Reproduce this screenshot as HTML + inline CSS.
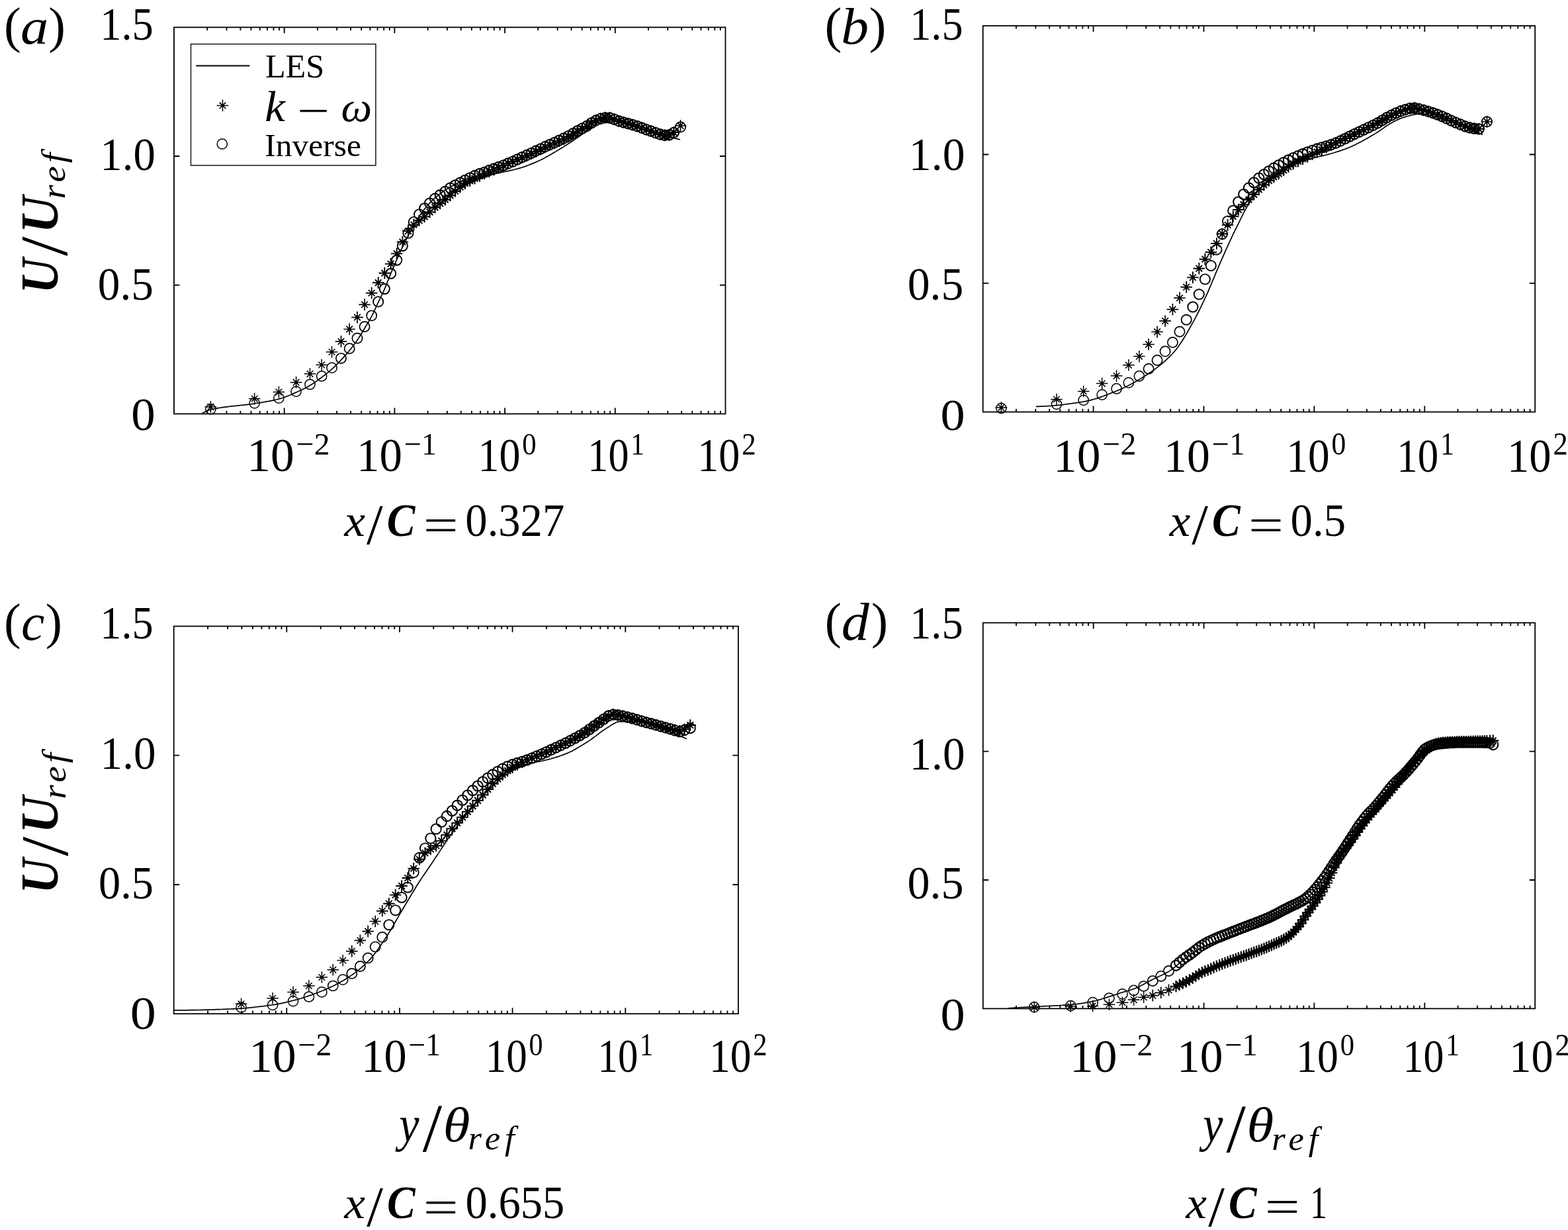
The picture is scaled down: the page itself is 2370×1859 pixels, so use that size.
<!DOCTYPE html><html><head><meta charset="utf-8"><title>Velocity profiles</title><style>html,body{margin:0;padding:0;background:#fff;}svg{display:block}text{font-family:"Liberation Serif", "DejaVu Serif", serif;fill:#000}</style></head><body>
<svg xmlns="http://www.w3.org/2000/svg" width="2370" height="1859" viewBox="0 0 2370 1859">
<rect x="0" y="0" width="2370" height="1859" fill="#fff"/>
<g id="panel-a"><path d="M305.0 625.0 L307.4 623.8 L309.8 622.5 L312.3 621.3 L314.7 620.3 L317.1 619.4 L319.5 618.8 L321.9 618.3 L324.3 617.7 L326.8 617.3 L329.2 616.8 L331.6 616.4 L334.0 616.1 L336.4 615.7 L338.9 615.4 L341.3 615.1 L343.7 614.8 L346.1 614.5 L348.5 614.2 L350.9 613.9 L353.4 613.7 L355.8 613.4 L358.2 613.2 L360.6 612.9 L363.0 612.7 L365.5 612.4 L367.9 612.2 L370.3 611.9 L372.7 611.6 L375.1 611.3 L377.5 611.0 L380.0 610.7 L382.4 610.3 L384.8 609.9 L387.2 609.5 L389.6 609.1 L392.1 608.8 L394.5 608.4 L396.9 608.0 L399.3 607.6 L401.7 607.1 L404.1 606.7 L406.6 606.3 L409.0 605.8 L411.4 605.3 L413.8 604.8 L416.2 604.3 L418.6 603.7 L421.1 603.1 L423.5 602.4 L425.9 601.7 L428.3 600.9 L430.7 600.0 L433.2 599.1 L435.6 598.2 L438.0 597.2 L440.4 596.2 L442.8 595.1 L445.2 594.1 L447.7 593.0 L450.1 591.9 L452.5 590.8 L454.9 589.7 L457.3 588.5 L459.8 587.3 L462.2 586.1 L464.6 584.8 L467.0 583.4 L469.4 582.0 L471.8 580.6 L474.3 579.0 L476.7 577.3 L479.1 575.6 L481.5 573.8 L483.9 572.0 L486.4 570.2 L488.8 568.4 L491.2 566.5 L493.6 564.6 L496.0 562.7 L498.4 560.7 L500.9 558.6 L503.3 556.4 L505.7 554.1 L508.1 551.7 L510.5 549.3 L513.0 546.8 L515.4 544.2 L517.8 541.7 L520.2 539.1 L522.6 536.4 L525.0 533.6 L527.5 530.8 L529.9 527.8 L532.3 524.7 L534.7 521.5 L537.1 518.1 L539.6 514.7 L542.0 511.1 L544.4 507.3 L546.8 503.3 L549.2 499.3 L551.6 495.3 L554.1 491.3 L556.5 487.3 L558.9 483.2 L561.3 478.9 L563.7 474.2 L566.2 469.0 L568.6 463.7 L571.0 458.5 L573.4 453.4 L575.8 448.5 L578.2 443.5 L580.7 438.2 L583.1 432.6 L585.5 426.5 L587.9 420.4 L590.3 414.4 L592.7 408.6 L595.2 402.9 L597.6 397.2 L600.0 391.7 L602.4 386.3 L604.8 380.9 L607.3 375.7 L609.7 370.7 L612.1 365.8 L614.5 361.0 L616.9 356.3 L619.3 351.7 L621.8 347.3 L624.2 343.0 L626.6 338.8 L629.0 334.7 L631.4 330.7 L633.9 326.8 L636.3 323.1 L638.7 319.7 L641.1 316.6 L643.5 313.7 L645.9 310.8 L648.4 308.2 L650.8 305.6 L653.2 303.2 L655.6 300.9 L658.0 298.7 L660.5 296.6 L662.9 294.7 L665.3 292.8 L667.7 291.0 L670.1 289.3 L672.5 287.6 L675.0 286.1 L677.4 284.6 L679.8 283.1 L682.2 281.7 L684.6 280.4 L687.1 279.1 L689.5 277.8 L691.9 276.6 L694.3 275.5 L696.7 274.4 L699.1 273.4 L701.6 272.3 L704.0 271.3 L706.4 270.3 L708.8 269.3 L711.2 268.4 L713.7 267.6 L716.1 266.8 L718.5 266.3 L720.9 265.9 L723.3 265.6 L725.7 265.3 L728.2 265.1 L730.6 264.9 L733.0 264.7 L735.4 264.5 L737.8 264.3 L740.3 264.0 L742.7 263.6 L745.1 263.1 L747.5 262.7 L749.9 262.1 L752.3 261.6 L754.8 261.1 L757.2 260.6 L759.6 260.1 L762.0 259.6 L764.4 259.1 L766.8 258.6 L769.3 258.1 L771.7 257.6 L774.1 257.0 L776.5 256.5 L778.9 255.9 L781.4 255.2 L783.8 254.6 L786.2 253.9 L788.6 253.2 L791.0 252.4 L793.4 251.6 L795.9 250.7 L798.3 249.8 L800.7 248.9 L803.1 247.9 L805.5 246.9 L808.0 245.9 L810.4 244.9 L812.8 243.8 L815.2 242.7 L817.6 241.6 L820.0 240.4 L822.5 239.1 L824.9 237.8 L827.3 236.4 L829.7 235.1 L832.1 233.7 L834.6 232.2 L837.0 230.8 L839.4 229.4 L841.8 227.9 L844.2 226.5 L846.6 225.1 L849.1 223.6 L851.5 222.1 L853.9 220.5 L856.3 219.0 L858.7 217.4 L861.2 215.9 L863.6 214.3 L866.0 212.7 L868.4 211.1 L870.8 209.4 L873.2 207.8 L875.7 206.1 L878.1 204.4 L880.5 202.6 L882.9 200.8 L885.3 198.9 L887.8 196.9 L890.2 194.9 L892.6 192.9 L895.0 191.1 L897.4 189.5 L899.8 188.1 L902.3 186.8 L904.7 185.5 L907.1 184.2 L909.5 183.0 L911.9 182.1 L914.4 181.4 L916.8 181.0 L919.2 181.1 L921.6 181.3 L924.0 181.8 L926.4 182.4 L928.9 183.1 L931.3 183.8 L933.7 184.5 L936.1 185.2 L938.5 185.7 L940.9 186.4 L943.4 187.0 L945.8 187.6 L948.2 188.3 L950.6 188.9 L953.0 189.6 L955.5 190.3 L957.9 191.0 L960.3 191.8 L962.7 192.6 L965.1 193.4 L967.5 194.3 L970.0 195.2 L972.4 196.1 L974.8 197.0 L977.2 197.9 L979.6 198.8 L982.1 199.6 L984.5 200.3 L986.9 201.0 L989.3 201.6 L991.7 202.2 L994.1 202.8 L996.6 203.4 L999.0 204.0 L1001.4 204.6 L1003.8 205.2 L1006.2 205.8 L1008.7 206.4 L1011.1 207.0 L1013.5 207.6 L1015.9 208.1 L1018.3 208.7 L1020.7 209.3 L1023.2 209.9 L1025.6 210.4 L1028.0 211.0" fill="none" stroke="#000" stroke-width="1.7" stroke-linejoin="round"/><path d="M632.9 327.5h17.6M641.7 318.7v17.6M636.9 322.7l9.6 9.6M636.9 332.3l9.6 -9.6M640.1 325.9h3.2v3.2h-3.2zM640.8 320.5h17.6M649.6 311.7v17.6M644.8 315.7l9.6 9.6M644.8 325.3l9.6 -9.6M648.0 318.9h3.2v3.2h-3.2zM648.7 313.4h17.6M657.5 304.6v17.6M652.7 308.6l9.6 9.6M652.7 318.2l9.6 -9.6M655.9 311.8h3.2v3.2h-3.2zM656.4 307.4h17.6M665.2 298.6v17.6M660.4 302.6l9.6 9.6M660.4 312.2l9.6 -9.6M663.6 305.8h3.2v3.2h-3.2zM664.1 301.8h17.6M672.9 293.0v17.6M668.1 297.0l9.6 9.6M668.1 306.6l9.6 -9.6M671.3 300.2h3.2v3.2h-3.2zM671.7 295.4h17.6M680.5 286.6v17.6M675.7 290.6l9.6 9.6M675.7 300.2l9.6 -9.6M678.9 293.8h3.2v3.2h-3.2zM679.2 288.9h17.6M688.0 280.1v17.6M683.2 284.1l9.6 9.6M683.2 293.7l9.6 -9.6M686.4 287.3h3.2v3.2h-3.2zM686.7 282.6h17.6M695.5 273.8v17.6M690.7 277.8l9.6 9.6M690.7 287.4l9.6 -9.6M693.9 281.0h3.2v3.2h-3.2zM694.1 277.1h17.6M702.9 268.3v17.6M698.1 272.3l9.6 9.6M698.1 281.9l9.6 -9.6M701.3 275.5h3.2v3.2h-3.2zM701.5 273.2h17.6M710.3 264.4v17.6M705.5 268.4l9.6 9.6M705.5 278.0l9.6 -9.6M708.7 271.6h3.2v3.2h-3.2zM708.8 269.7h17.6M717.6 260.9v17.6M712.8 264.9l9.6 9.6M712.8 274.5l9.6 -9.6M716.0 268.1h3.2v3.2h-3.2zM716.1 266.0h17.6M724.9 257.2v17.6M720.1 261.2l9.6 9.6M720.1 270.8l9.6 -9.6M723.3 264.4h3.2v3.2h-3.2zM723.3 262.5h17.6M732.1 253.7v17.6M727.3 257.7l9.6 9.6M727.3 267.3l9.6 -9.6M730.5 260.9h3.2v3.2h-3.2zM730.5 259.5h17.6M739.3 250.7v17.6M734.5 254.7l9.6 9.6M734.5 264.3l9.6 -9.6M737.7 257.9h3.2v3.2h-3.2zM737.7 256.7h17.6M746.5 247.9v17.6M741.7 251.9l9.6 9.6M741.7 261.5l9.6 -9.6M744.9 255.1h3.2v3.2h-3.2zM744.8 253.6h17.6M753.6 244.8v17.6M748.8 248.8l9.6 9.6M748.8 258.4l9.6 -9.6M752.0 252.0h3.2v3.2h-3.2zM752.0 250.3h17.6M760.8 241.5v17.6M756.0 245.5l9.6 9.6M756.0 255.1l9.6 -9.6M759.2 248.7h3.2v3.2h-3.2zM759.1 247.1h17.6M767.9 238.3v17.6M763.1 242.3l9.6 9.6M763.1 251.9l9.6 -9.6M766.3 245.5h3.2v3.2h-3.2zM766.2 244.1h17.6M775.0 235.3v17.6M770.2 239.3l9.6 9.6M770.2 248.9l9.6 -9.6M773.4 242.5h3.2v3.2h-3.2zM773.3 241.2h17.6M782.1 232.4v17.6M777.3 236.4l9.6 9.6M777.3 246.0l9.6 -9.6M780.5 239.6h3.2v3.2h-3.2zM780.3 238.3h17.6M789.1 229.5v17.6M784.3 233.5l9.6 9.6M784.3 243.1l9.6 -9.6M787.5 236.7h3.2v3.2h-3.2zM787.4 235.4h17.6M796.2 226.6v17.6M791.4 230.6l9.6 9.6M791.4 240.2l9.6 -9.6M794.6 233.8h3.2v3.2h-3.2zM794.4 232.3h17.6M803.2 223.5v17.6M798.4 227.5l9.6 9.6M798.4 237.1l9.6 -9.6M801.6 230.7h3.2v3.2h-3.2zM801.4 229.1h17.6M810.2 220.3v17.6M805.4 224.3l9.6 9.6M805.4 233.9l9.6 -9.6M808.6 227.5h3.2v3.2h-3.2zM808.4 225.8h17.6M817.2 217.0v17.6M812.4 221.0l9.6 9.6M812.4 230.6l9.6 -9.6M815.6 224.2h3.2v3.2h-3.2zM815.4 222.5h17.6M824.2 213.7v17.6M819.4 217.7l9.6 9.6M819.4 227.3l9.6 -9.6M822.6 220.9h3.2v3.2h-3.2zM822.4 219.3h17.6M831.2 210.5v17.6M826.4 214.5l9.6 9.6M826.4 224.1l9.6 -9.6M829.6 217.7h3.2v3.2h-3.2zM829.4 216.3h17.6M838.2 207.5v17.6M833.4 211.5l9.6 9.6M833.4 221.1l9.6 -9.6M836.6 214.7h3.2v3.2h-3.2zM836.4 213.3h17.6M845.2 204.5v17.6M840.4 208.5l9.6 9.6M840.4 218.1l9.6 -9.6M843.6 211.7h3.2v3.2h-3.2zM843.4 210.1h17.6M852.2 201.3v17.6M847.4 205.3l9.6 9.6M847.4 214.9l9.6 -9.6M850.6 208.5h3.2v3.2h-3.2zM850.3 206.6h17.6M859.1 197.8v17.6M854.3 201.8l9.6 9.6M854.3 211.4l9.6 -9.6M857.5 205.0h3.2v3.2h-3.2zM857.3 202.5h17.6M866.1 193.7v17.6M861.3 197.7l9.6 9.6M861.3 207.3l9.6 -9.6M864.5 200.9h3.2v3.2h-3.2zM864.2 198.3h17.6M873.0 189.5v17.6M868.2 193.5l9.6 9.6M868.2 203.1l9.6 -9.6M871.4 196.7h3.2v3.2h-3.2zM871.2 194.6h17.6M880.0 185.8v17.6M875.2 189.8l9.6 9.6M875.2 199.4l9.6 -9.6M878.4 193.0h3.2v3.2h-3.2zM878.1 191.0h17.6M886.9 182.2v17.6M882.1 186.2l9.6 9.6M882.1 195.8l9.6 -9.6M885.3 189.4h3.2v3.2h-3.2zM885.1 186.0h17.6M893.9 177.2v17.6M889.1 181.2l9.6 9.6M889.1 190.8l9.6 -9.6M892.3 184.4h3.2v3.2h-3.2zM892.0 182.0h17.6M900.8 173.2v17.6M896.0 177.2l9.6 9.6M896.0 186.8l9.6 -9.6M899.2 180.4h3.2v3.2h-3.2zM899.0 179.4h17.6M907.8 170.6v17.6M903.0 174.6l9.6 9.6M903.0 184.2l9.6 -9.6M906.2 177.8h3.2v3.2h-3.2zM905.9 177.8h17.6M914.7 169.0v17.6M909.9 173.0l9.6 9.6M909.9 182.6l9.6 -9.6M913.1 176.2h3.2v3.2h-3.2zM912.8 178.1h17.6M921.6 169.3v17.6M916.8 173.3l9.6 9.6M916.8 182.9l9.6 -9.6M920.0 176.5h3.2v3.2h-3.2zM919.8 180.4h17.6M928.6 171.6v17.6M923.8 175.6l9.6 9.6M923.8 185.2l9.6 -9.6M927.0 178.8h3.2v3.2h-3.2zM926.7 183.0h17.6M935.5 174.2v17.6M930.7 178.2l9.6 9.6M930.7 187.8l9.6 -9.6M933.9 181.4h3.2v3.2h-3.2zM933.6 184.9h17.6M942.4 176.1v17.6M937.6 180.1l9.6 9.6M937.6 189.7l9.6 -9.6M940.8 183.3h3.2v3.2h-3.2zM940.5 186.7h17.6M949.3 177.9v17.6M944.5 181.9l9.6 9.6M944.5 191.5l9.6 -9.6M947.7 185.1h3.2v3.2h-3.2zM947.5 188.6h17.6M956.3 179.8v17.6M951.5 183.8l9.6 9.6M951.5 193.4l9.6 -9.6M954.7 187.0h3.2v3.2h-3.2zM954.4 190.7h17.6M963.2 181.9v17.6M958.4 185.9l9.6 9.6M958.4 195.5l9.6 -9.6M961.6 189.1h3.2v3.2h-3.2zM961.3 193.2h17.6M970.1 184.4v17.6M965.3 188.4l9.6 9.6M965.3 198.0l9.6 -9.6M968.5 191.6h3.2v3.2h-3.2zM968.2 195.8h17.6M977.0 187.0v17.6M972.2 191.0l9.6 9.6M972.2 200.6l9.6 -9.6M975.4 194.2h3.2v3.2h-3.2zM975.1 198.1h17.6M983.9 189.3v17.6M979.1 193.3l9.6 9.6M979.1 202.9l9.6 -9.6M982.3 196.5h3.2v3.2h-3.2zM982.1 200.6h17.6M990.9 191.8v17.6M986.1 195.8l9.6 9.6M986.1 205.4l9.6 -9.6M989.3 199.0h3.2v3.2h-3.2zM989.0 203.0h17.6M997.8 194.2v17.6M993.0 198.2l9.6 9.6M993.0 207.8l9.6 -9.6M996.2 201.4h3.2v3.2h-3.2zM995.9 204.4h17.6M1004.7 195.6v17.6M999.9 199.6l9.6 9.6M999.9 209.2l9.6 -9.6M1003.1 202.8h3.2v3.2h-3.2zM1002.8 204.0h17.6M1011.6 195.2v17.6M1006.8 199.2l9.6 9.6M1006.8 208.8l9.6 -9.6M1010.0 202.4h3.2v3.2h-3.2zM1009.7 200.0h17.6M1018.5 191.2v17.6M1013.7 195.2l9.6 9.6M1013.7 204.8l9.6 -9.6M1016.9 198.4h3.2v3.2h-3.2z" fill="none" stroke="#000" stroke-width="2.1"/><path d="M634.1 314.9a7.6 7.6 0 1 0 15.2 0a7.6 7.6 0 1 0 -15.2 0M642.0 307.1a7.6 7.6 0 1 0 15.2 0a7.6 7.6 0 1 0 -15.2 0M649.9 300.1a7.6 7.6 0 1 0 15.2 0a7.6 7.6 0 1 0 -15.2 0M657.6 294.7a7.6 7.6 0 1 0 15.2 0a7.6 7.6 0 1 0 -15.2 0M665.3 289.3a7.6 7.6 0 1 0 15.2 0a7.6 7.6 0 1 0 -15.2 0M672.9 284.1a7.6 7.6 0 1 0 15.2 0a7.6 7.6 0 1 0 -15.2 0M680.4 279.8a7.6 7.6 0 1 0 15.2 0a7.6 7.6 0 1 0 -15.2 0M687.9 276.2a7.6 7.6 0 1 0 15.2 0a7.6 7.6 0 1 0 -15.2 0M695.3 272.4a7.6 7.6 0 1 0 15.2 0a7.6 7.6 0 1 0 -15.2 0M702.7 268.8a7.6 7.6 0 1 0 15.2 0a7.6 7.6 0 1 0 -15.2 0M710.0 265.5a7.6 7.6 0 1 0 15.2 0a7.6 7.6 0 1 0 -15.2 0M717.3 262.6a7.6 7.6 0 1 0 15.2 0a7.6 7.6 0 1 0 -15.2 0M724.5 260.3a7.6 7.6 0 1 0 15.2 0a7.6 7.6 0 1 0 -15.2 0M731.7 257.5a7.6 7.6 0 1 0 15.2 0a7.6 7.6 0 1 0 -15.2 0M738.9 255.0a7.6 7.6 0 1 0 15.2 0a7.6 7.6 0 1 0 -15.2 0M746.0 252.4a7.6 7.6 0 1 0 15.2 0a7.6 7.6 0 1 0 -15.2 0M753.2 249.8a7.6 7.6 0 1 0 15.2 0a7.6 7.6 0 1 0 -15.2 0M760.3 247.0a7.6 7.6 0 1 0 15.2 0a7.6 7.6 0 1 0 -15.2 0M767.4 244.1a7.6 7.6 0 1 0 15.2 0a7.6 7.6 0 1 0 -15.2 0M774.5 240.9a7.6 7.6 0 1 0 15.2 0a7.6 7.6 0 1 0 -15.2 0M781.5 237.7a7.6 7.6 0 1 0 15.2 0a7.6 7.6 0 1 0 -15.2 0M788.6 234.5a7.6 7.6 0 1 0 15.2 0a7.6 7.6 0 1 0 -15.2 0M795.6 231.3a7.6 7.6 0 1 0 15.2 0a7.6 7.6 0 1 0 -15.2 0M802.6 228.0a7.6 7.6 0 1 0 15.2 0a7.6 7.6 0 1 0 -15.2 0M809.6 224.8a7.6 7.6 0 1 0 15.2 0a7.6 7.6 0 1 0 -15.2 0M816.6 221.5a7.6 7.6 0 1 0 15.2 0a7.6 7.6 0 1 0 -15.2 0M823.6 218.3a7.6 7.6 0 1 0 15.2 0a7.6 7.6 0 1 0 -15.2 0M830.6 215.3a7.6 7.6 0 1 0 15.2 0a7.6 7.6 0 1 0 -15.2 0M837.6 212.2a7.6 7.6 0 1 0 15.2 0a7.6 7.6 0 1 0 -15.2 0M844.6 209.0a7.6 7.6 0 1 0 15.2 0a7.6 7.6 0 1 0 -15.2 0M851.5 205.6a7.6 7.6 0 1 0 15.2 0a7.6 7.6 0 1 0 -15.2 0M858.5 201.7a7.6 7.6 0 1 0 15.2 0a7.6 7.6 0 1 0 -15.2 0M865.4 197.7a7.6 7.6 0 1 0 15.2 0a7.6 7.6 0 1 0 -15.2 0M872.4 194.1a7.6 7.6 0 1 0 15.2 0a7.6 7.6 0 1 0 -15.2 0M879.3 190.5a7.6 7.6 0 1 0 15.2 0a7.6 7.6 0 1 0 -15.2 0M886.3 185.8a7.6 7.6 0 1 0 15.2 0a7.6 7.6 0 1 0 -15.2 0M893.2 182.0a7.6 7.6 0 1 0 15.2 0a7.6 7.6 0 1 0 -15.2 0M900.2 179.4a7.6 7.6 0 1 0 15.2 0a7.6 7.6 0 1 0 -15.2 0M907.1 177.8a7.6 7.6 0 1 0 15.2 0a7.6 7.6 0 1 0 -15.2 0M914.0 178.1a7.6 7.6 0 1 0 15.2 0a7.6 7.6 0 1 0 -15.2 0M921.0 180.4a7.6 7.6 0 1 0 15.2 0a7.6 7.6 0 1 0 -15.2 0M927.9 183.0a7.6 7.6 0 1 0 15.2 0a7.6 7.6 0 1 0 -15.2 0M934.8 184.9a7.6 7.6 0 1 0 15.2 0a7.6 7.6 0 1 0 -15.2 0M941.7 186.7a7.6 7.6 0 1 0 15.2 0a7.6 7.6 0 1 0 -15.2 0M948.7 188.6a7.6 7.6 0 1 0 15.2 0a7.6 7.6 0 1 0 -15.2 0M955.6 190.7a7.6 7.6 0 1 0 15.2 0a7.6 7.6 0 1 0 -15.2 0M962.5 193.2a7.6 7.6 0 1 0 15.2 0a7.6 7.6 0 1 0 -15.2 0M969.4 195.8a7.6 7.6 0 1 0 15.2 0a7.6 7.6 0 1 0 -15.2 0M976.3 198.1a7.6 7.6 0 1 0 15.2 0a7.6 7.6 0 1 0 -15.2 0M983.3 200.6a7.6 7.6 0 1 0 15.2 0a7.6 7.6 0 1 0 -15.2 0M990.2 203.0a7.6 7.6 0 1 0 15.2 0a7.6 7.6 0 1 0 -15.2 0M997.1 204.4a7.6 7.6 0 1 0 15.2 0a7.6 7.6 0 1 0 -15.2 0M1004.0 203.9a7.6 7.6 0 1 0 15.2 0a7.6 7.6 0 1 0 -15.2 0M1010.9 200.4a7.6 7.6 0 1 0 15.2 0a7.6 7.6 0 1 0 -15.2 0" fill="none" stroke="#000" stroke-width="2.1"/><path d="M562.9 427.3h17.6M571.7 418.5v17.6M566.9 422.5l9.6 9.6M566.9 432.1l9.6 -9.6M570.1 425.7h3.2v3.2h-3.2zM572.5 412.8h17.6M581.3 404.0v17.6M576.5 408.0l9.6 9.6M576.5 417.6l9.6 -9.6M579.7 411.2h3.2v3.2h-3.2zM581.8 398.9h17.6M590.6 390.1v17.6M585.8 394.1l9.6 9.6M585.8 403.7l9.6 -9.6M589.0 397.3h3.2v3.2h-3.2zM590.9 383.4h17.6M599.7 374.6v17.6M594.9 378.6l9.6 9.6M594.9 388.2l9.6 -9.6M598.1 381.8h3.2v3.2h-3.2zM599.6 365.6h17.6M608.4 356.8v17.6M603.6 360.8l9.6 9.6M603.6 370.4l9.6 -9.6M606.8 364.0h3.2v3.2h-3.2zM608.2 349.2h17.6M617.0 340.4v17.6M612.2 344.4l9.6 9.6M612.2 354.0l9.6 -9.6M615.4 347.6h3.2v3.2h-3.2zM616.6 339.6h17.6M625.4 330.8v17.6M620.6 334.8l9.6 9.6M620.6 344.4l9.6 -9.6M623.8 338.0h3.2v3.2h-3.2zM624.8 333.2h17.6M633.6 324.4v17.6M628.8 328.4l9.6 9.6M628.8 338.0l9.6 -9.6M632.0 331.6h3.2v3.2h-3.2z" fill="none" stroke="#000" stroke-width="1.9"/><path d="M564.1 456.0a7.6 7.6 0 1 0 15.2 0a7.6 7.6 0 1 0 -15.2 0M573.7 436.6a7.6 7.6 0 1 0 15.2 0a7.6 7.6 0 1 0 -15.2 0M583.0 413.4a7.6 7.6 0 1 0 15.2 0a7.6 7.6 0 1 0 -15.2 0M592.1 393.1a7.6 7.6 0 1 0 15.2 0a7.6 7.6 0 1 0 -15.2 0M600.8 371.6a7.6 7.6 0 1 0 15.2 0a7.6 7.6 0 1 0 -15.2 0M609.4 352.3a7.6 7.6 0 1 0 15.2 0a7.6 7.6 0 1 0 -15.2 0M617.8 335.5a7.6 7.6 0 1 0 15.2 0a7.6 7.6 0 1 0 -15.2 0M626.0 324.0a7.6 7.6 0 1 0 15.2 0a7.6 7.6 0 1 0 -15.2 0" fill="none" stroke="#000" stroke-width="1.9"/><path d="M506.7 516.1h17.6M515.5 507.3v17.6M510.7 511.3l9.6 9.6M510.7 520.9l9.6 -9.6M513.9 514.5h3.2v3.2h-3.2zM519.4 497.5h17.6M528.2 488.7v17.6M523.4 492.7l9.6 9.6M523.4 502.3l9.6 -9.6M526.6 495.9h3.2v3.2h-3.2zM531.2 479.6h17.6M540.0 470.8v17.6M535.2 474.8l9.6 9.6M535.2 484.4l9.6 -9.6M538.4 478.0h3.2v3.2h-3.2zM542.3 460.4h17.6M551.1 451.6v17.6M546.3 455.6l9.6 9.6M546.3 465.2l9.6 -9.6M549.5 458.8h3.2v3.2h-3.2zM552.9 442.9h17.6M561.7 434.1v17.6M556.9 438.1l9.6 9.6M556.9 447.7l9.6 -9.6M560.1 441.3h3.2v3.2h-3.2zM1019.8 190.0h17.6M1028.6 181.2v17.6M1023.8 185.2l9.6 9.6M1023.8 194.8l9.6 -9.6M1027.0 188.4h3.2v3.2h-3.2z" fill="none" stroke="#000" stroke-width="1.7"/><path d="M507.9 541.6a7.6 7.6 0 1 0 15.2 0a7.6 7.6 0 1 0 -15.2 0M520.6 526.7a7.6 7.6 0 1 0 15.2 0a7.6 7.6 0 1 0 -15.2 0M532.4 511.2a7.6 7.6 0 1 0 15.2 0a7.6 7.6 0 1 0 -15.2 0M543.5 493.8a7.6 7.6 0 1 0 15.2 0a7.6 7.6 0 1 0 -15.2 0M554.1 477.1a7.6 7.6 0 1 0 15.2 0a7.6 7.6 0 1 0 -15.2 0M1021.0 192.0a7.6 7.6 0 1 0 15.2 0a7.6 7.6 0 1 0 -15.2 0" fill="none" stroke="#000" stroke-width="1.7"/><path d="M309.6 614.9h17.6M318.4 606.1v17.6M313.6 610.1l9.6 9.6M313.6 619.7l9.6 -9.6M316.8 613.3h3.2v3.2h-3.2zM375.9 602.6h17.6M384.7 593.8v17.6M379.9 597.8l9.6 9.6M379.9 607.4l9.6 -9.6M383.1 601.0h3.2v3.2h-3.2zM412.6 592.6h17.6M421.4 583.8v17.6M416.6 587.8l9.6 9.6M416.6 597.4l9.6 -9.6M419.8 591.0h3.2v3.2h-3.2zM438.8 577.9h17.6M447.6 569.1v17.6M442.8 573.1l9.6 9.6M442.8 582.7l9.6 -9.6M446.0 576.3h3.2v3.2h-3.2zM459.7 565.1h17.6M468.5 556.3v17.6M463.7 560.3l9.6 9.6M463.7 569.9l9.6 -9.6M466.9 563.5h3.2v3.2h-3.2zM477.4 551.5h17.6M486.2 542.7v17.6M481.4 546.7l9.6 9.6M481.4 556.3l9.6 -9.6M484.6 549.9h3.2v3.2h-3.2zM492.8 532.0h17.6M501.6 523.2v17.6M496.8 527.2l9.6 9.6M496.8 536.8l9.6 -9.6M500.0 530.4h3.2v3.2h-3.2z" fill="none" stroke="#000" stroke-width="1.5"/><path d="M310.8 618.3a7.6 7.6 0 1 0 15.2 0a7.6 7.6 0 1 0 -15.2 0M377.1 609.3a7.6 7.6 0 1 0 15.2 0a7.6 7.6 0 1 0 -15.2 0M413.8 601.6a7.6 7.6 0 1 0 15.2 0a7.6 7.6 0 1 0 -15.2 0M440.0 591.6a7.6 7.6 0 1 0 15.2 0a7.6 7.6 0 1 0 -15.2 0M460.9 581.0a7.6 7.6 0 1 0 15.2 0a7.6 7.6 0 1 0 -15.2 0M478.6 568.5a7.6 7.6 0 1 0 15.2 0a7.6 7.6 0 1 0 -15.2 0M494.0 555.9a7.6 7.6 0 1 0 15.2 0a7.6 7.6 0 1 0 -15.2 0" fill="none" stroke="#000" stroke-width="1.5"/><rect x="263.0" y="41.3" width="833.5" height="584.2" fill="none" stroke="#000" stroke-width="1.8"/><path d="M313.2 625.5v-4.6M313.2 41.3v4.6M342.5 625.5v-4.6M342.5 41.3v4.6M363.4 625.5v-4.6M363.4 41.3v4.6M379.5 625.5v-4.6M379.5 41.3v4.6M392.7 625.5v-4.6M392.7 41.3v4.6M403.9 625.5v-4.6M403.9 41.3v4.6M413.5 625.5v-4.6M413.5 41.3v4.6M422.1 625.5v-4.6M422.1 41.3v4.6M429.7 625.5v-9.0M429.7 41.3v9.0M479.9 625.5v-4.6M479.9 41.3v4.6M509.2 625.5v-4.6M509.2 41.3v4.6M530.1 625.5v-4.6M530.1 41.3v4.6M546.2 625.5v-4.6M546.2 41.3v4.6M559.4 625.5v-4.6M559.4 41.3v4.6M570.6 625.5v-4.6M570.6 41.3v4.6M580.2 625.5v-4.6M580.2 41.3v4.6M588.8 625.5v-4.6M588.8 41.3v4.6M596.4 625.5v-9.0M596.4 41.3v9.0M646.6 625.5v-4.6M646.6 41.3v4.6M675.9 625.5v-4.6M675.9 41.3v4.6M696.8 625.5v-4.6M696.8 41.3v4.6M712.9 625.5v-4.6M712.9 41.3v4.6M726.1 625.5v-4.6M726.1 41.3v4.6M737.3 625.5v-4.6M737.3 41.3v4.6M746.9 625.5v-4.6M746.9 41.3v4.6M755.5 625.5v-4.6M755.5 41.3v4.6M763.1 625.5v-9.0M763.1 41.3v9.0M813.3 625.5v-4.6M813.3 41.3v4.6M842.6 625.5v-4.6M842.6 41.3v4.6M863.5 625.5v-4.6M863.5 41.3v4.6M879.6 625.5v-4.6M879.6 41.3v4.6M892.8 625.5v-4.6M892.8 41.3v4.6M904.0 625.5v-4.6M904.0 41.3v4.6M913.6 625.5v-4.6M913.6 41.3v4.6M922.2 625.5v-4.6M922.2 41.3v4.6M929.8 625.5v-9.0M929.8 41.3v9.0M980.0 625.5v-4.6M980.0 41.3v4.6M1009.3 625.5v-4.6M1009.3 41.3v4.6M1030.2 625.5v-4.6M1030.2 41.3v4.6M1046.3 625.5v-4.6M1046.3 41.3v4.6M1059.5 625.5v-4.6M1059.5 41.3v4.6M1070.7 625.5v-4.6M1070.7 41.3v4.6M1080.3 625.5v-4.6M1080.3 41.3v4.6M1088.9 625.5v-4.6M1088.9 41.3v4.6M263.0 430.8h8.5M1096.5 430.8h-8.5M263.0 236.0h8.5M1096.5 236.0h-8.5" stroke="#000" stroke-width="1.8" fill="none"/></g>
<g id="panel-b"><path d="M1565.8 614.3 L1568.1 614.3 L1570.3 614.3 L1572.6 614.2 L1574.8 614.1 L1577.1 614.1 L1579.3 614.0 L1581.6 613.8 L1583.9 613.7 L1586.1 613.5 L1588.4 613.4 L1590.6 613.2 L1592.9 613.0 L1595.2 612.8 L1597.4 612.6 L1599.7 612.3 L1601.9 612.1 L1604.2 611.8 L1606.4 611.6 L1608.7 611.3 L1611.0 611.0 L1613.2 610.7 L1615.5 610.4 L1617.7 610.1 L1620.0 609.8 L1622.2 609.4 L1624.5 609.1 L1626.8 608.8 L1629.0 608.4 L1631.3 608.1 L1633.5 607.7 L1635.8 607.4 L1638.1 607.0 L1640.3 606.6 L1642.6 606.2 L1644.8 605.7 L1647.1 605.1 L1649.3 604.6 L1651.6 603.9 L1653.9 603.3 L1656.1 602.6 L1658.4 601.9 L1660.6 601.2 L1662.9 600.4 L1665.1 599.6 L1667.4 598.8 L1669.7 597.9 L1671.9 597.1 L1674.2 596.2 L1676.4 595.3 L1678.7 594.4 L1681.0 593.5 L1683.2 592.6 L1685.5 591.7 L1687.7 590.8 L1690.0 589.9 L1692.2 588.9 L1694.5 587.9 L1696.8 586.9 L1699.0 585.8 L1701.3 584.8 L1703.5 583.7 L1705.8 582.5 L1708.0 581.4 L1710.3 580.2 L1712.6 578.9 L1714.8 577.7 L1717.1 576.4 L1719.3 575.1 L1721.6 573.8 L1723.9 572.4 L1726.1 571.0 L1728.4 569.6 L1730.6 568.2 L1732.9 566.7 L1735.1 565.2 L1737.4 563.7 L1739.7 562.2 L1741.9 560.6 L1744.2 559.0 L1746.4 557.3 L1748.7 555.6 L1750.9 553.9 L1753.2 552.1 L1755.5 550.3 L1757.7 548.4 L1760.0 546.4 L1762.2 544.4 L1764.5 542.2 L1766.7 540.1 L1769.0 537.8 L1771.3 535.5 L1773.5 533.0 L1775.8 530.5 L1778.0 527.8 L1780.3 524.8 L1782.6 521.6 L1784.8 518.3 L1787.1 514.8 L1789.3 511.2 L1791.6 507.4 L1793.8 503.6 L1796.1 499.7 L1798.4 495.7 L1800.6 491.7 L1802.9 487.7 L1805.1 483.6 L1807.4 479.4 L1809.6 475.0 L1811.9 470.5 L1814.2 465.9 L1816.4 461.2 L1818.7 456.5 L1820.9 451.6 L1823.2 446.8 L1825.5 441.8 L1827.7 436.6 L1830.0 431.3 L1832.2 426.0 L1834.5 420.6 L1836.7 415.1 L1839.0 409.7 L1841.3 404.4 L1843.5 399.1 L1845.8 393.9 L1848.0 388.9 L1850.3 383.8 L1852.5 378.7 L1854.8 373.7 L1857.1 368.7 L1859.3 363.8 L1861.6 358.9 L1863.8 354.1 L1866.1 349.4 L1868.4 344.8 L1870.6 340.3 L1872.9 335.8 L1875.1 331.2 L1877.4 326.7 L1879.6 322.2 L1881.9 317.9 L1884.2 313.6 L1886.4 309.6 L1888.7 305.8 L1890.9 302.3 L1893.2 299.0 L1895.4 296.1 L1897.7 293.2 L1900.0 290.4 L1902.2 287.7 L1904.5 285.1 L1906.7 282.5 L1909.0 280.1 L1911.3 277.7 L1913.5 275.5 L1915.8 273.3 L1918.0 271.3 L1920.3 269.3 L1922.5 267.5 L1924.8 265.8 L1927.1 264.2 L1929.3 262.7 L1931.6 261.3 L1933.8 260.0 L1936.1 258.6 L1938.3 257.4 L1940.6 256.2 L1942.9 255.0 L1945.1 253.9 L1947.4 252.8 L1949.6 251.7 L1951.9 250.7 L1954.2 249.7 L1956.4 248.7 L1958.7 247.8 L1960.9 246.9 L1963.2 246.1 L1965.4 245.2 L1967.7 244.4 L1970.0 243.6 L1972.2 242.8 L1974.5 242.1 L1976.7 241.3 L1979.0 240.6 L1981.2 239.9 L1983.5 239.3 L1985.8 238.7 L1988.0 238.1 L1990.3 237.5 L1992.5 237.0 L1994.8 236.5 L1997.1 235.9 L1999.3 235.4 L2001.6 234.9 L2003.8 234.3 L2006.1 233.7 L2008.3 233.1 L2010.6 232.5 L2012.9 231.8 L2015.1 231.2 L2017.4 230.5 L2019.6 229.8 L2021.9 229.1 L2024.1 228.4 L2026.4 227.6 L2028.7 226.8 L2030.9 226.1 L2033.2 225.2 L2035.4 224.4 L2037.7 223.5 L2040.0 222.6 L2042.2 221.6 L2044.5 220.6 L2046.7 219.5 L2049.0 218.4 L2051.2 217.2 L2053.5 216.1 L2055.8 214.9 L2058.0 213.7 L2060.3 212.5 L2062.5 211.2 L2064.8 210.0 L2067.0 208.7 L2069.3 207.5 L2071.6 206.1 L2073.8 204.8 L2076.1 203.5 L2078.3 202.1 L2080.6 200.7 L2082.8 199.2 L2085.1 197.8 L2087.4 196.2 L2089.6 194.6 L2091.9 193.0 L2094.1 191.4 L2096.4 189.8 L2098.7 188.4 L2100.9 187.1 L2103.2 185.8 L2105.4 184.6 L2107.7 183.3 L2109.9 182.2 L2112.2 181.1 L2114.5 180.1 L2116.7 179.1 L2119.0 178.3 L2121.2 177.6 L2123.5 176.9 L2125.7 176.2 L2128.0 175.5 L2130.3 174.9 L2132.5 174.2 L2134.8 173.7 L2137.0 173.2 L2139.3 172.8 L2141.6 172.5 L2143.8 172.3 L2146.1 172.2 L2148.3 172.2 L2150.6 172.4 L2152.8 172.7 L2155.1 173.0 L2157.4 173.4 L2159.6 173.9 L2161.9 174.5 L2164.1 175.1 L2166.4 175.8 L2168.6 176.5 L2170.9 177.2 L2173.2 177.9 L2175.4 178.7 L2177.7 179.5 L2179.9 180.2 L2182.2 180.9 L2184.5 181.7 L2186.7 182.3 L2189.0 183.0 L2191.2 183.7 L2193.5 184.5 L2195.7 185.2 L2198.0 186.0 L2200.3 186.8 L2202.5 187.6 L2204.8 188.4 L2207.0 189.2 L2209.3 190.1 L2211.5 191.0 L2213.8 191.9 L2216.1 192.8 L2218.3 193.7 L2220.6 194.6 L2222.8 195.6 L2225.1 196.5 L2227.4 197.5 L2229.6 198.5 L2231.9 199.5 L2234.1 200.5 L2236.4 201.6 L2238.6 202.6 L2240.9 203.7" fill="none" stroke="#000" stroke-width="1.7" stroke-linejoin="round"/><path d="M1863.0 317.0h17.6M1871.8 308.2v17.6M1867.0 312.2l9.6 9.6M1867.0 321.8l9.6 -9.6M1870.2 315.4h3.2v3.2h-3.2zM1870.9 309.2h17.6M1879.7 300.4v17.6M1874.9 304.4l9.6 9.6M1874.9 314.0l9.6 -9.6M1878.1 307.6h3.2v3.2h-3.2zM1878.7 301.7h17.6M1887.5 292.9v17.6M1882.7 296.9l9.6 9.6M1882.7 306.5l9.6 -9.6M1885.9 300.1h3.2v3.2h-3.2zM1886.4 293.9h17.6M1895.2 285.1v17.6M1890.4 289.1l9.6 9.6M1890.4 298.7l9.6 -9.6M1893.6 292.3h3.2v3.2h-3.2zM1894.0 286.4h17.6M1902.8 277.6v17.6M1898.0 281.6l9.6 9.6M1898.0 291.2l9.6 -9.6M1901.2 284.8h3.2v3.2h-3.2zM1901.6 279.4h17.6M1910.4 270.6v17.6M1905.6 274.6l9.6 9.6M1905.6 284.2l9.6 -9.6M1908.8 277.8h3.2v3.2h-3.2zM1909.1 272.9h17.6M1917.9 264.1v17.6M1913.1 268.1l9.6 9.6M1913.1 277.7l9.6 -9.6M1916.3 271.3h3.2v3.2h-3.2zM1916.5 267.4h17.6M1925.3 258.6v17.6M1920.5 262.6l9.6 9.6M1920.5 272.2l9.6 -9.6M1923.7 265.8h3.2v3.2h-3.2zM1923.9 262.4h17.6M1932.7 253.6v17.6M1927.9 257.6l9.6 9.6M1927.9 267.2l9.6 -9.6M1931.1 260.8h3.2v3.2h-3.2zM1931.3 257.2h17.6M1940.1 248.4v17.6M1935.3 252.4l9.6 9.6M1935.3 262.0l9.6 -9.6M1938.5 255.6h3.2v3.2h-3.2zM1938.6 251.9h17.6M1947.4 243.1v17.6M1942.6 247.1l9.6 9.6M1942.6 256.7l9.6 -9.6M1945.8 250.3h3.2v3.2h-3.2zM1945.9 247.4h17.6M1954.7 238.6v17.6M1949.9 242.6l9.6 9.6M1949.9 252.2l9.6 -9.6M1953.1 245.8h3.2v3.2h-3.2zM1953.1 243.6h17.6M1961.9 234.8v17.6M1957.1 238.8l9.6 9.6M1957.1 248.4l9.6 -9.6M1960.3 242.0h3.2v3.2h-3.2zM1960.3 240.1h17.6M1969.1 231.3v17.6M1964.3 235.3l9.6 9.6M1964.3 244.9l9.6 -9.6M1967.5 238.5h3.2v3.2h-3.2zM1967.5 236.7h17.6M1976.3 227.9v17.6M1971.5 231.9l9.6 9.6M1971.5 241.5l9.6 -9.6M1974.7 235.1h3.2v3.2h-3.2zM1974.7 233.3h17.6M1983.5 224.5v17.6M1978.7 228.5l9.6 9.6M1978.7 238.1l9.6 -9.6M1981.9 231.7h3.2v3.2h-3.2zM1981.8 229.8h17.6M1990.6 221.0v17.6M1985.8 225.0l9.6 9.6M1985.8 234.6l9.6 -9.6M1989.0 228.2h3.2v3.2h-3.2zM1988.9 226.3h17.6M1997.7 217.5v17.6M1992.9 221.5l9.6 9.6M1992.9 231.1l9.6 -9.6M1996.1 224.7h3.2v3.2h-3.2zM1996.0 222.8h17.6M2004.8 214.0v17.6M2000.0 218.0l9.6 9.6M2000.0 227.6l9.6 -9.6M2003.2 221.2h3.2v3.2h-3.2zM2003.1 219.3h17.6M2011.9 210.5v17.6M2007.1 214.5l9.6 9.6M2007.1 224.1l9.6 -9.6M2010.3 217.7h3.2v3.2h-3.2zM2010.2 215.9h17.6M2019.0 207.1v17.6M2014.2 211.1l9.6 9.6M2014.2 220.7l9.6 -9.6M2017.4 214.3h3.2v3.2h-3.2zM2017.3 212.5h17.6M2026.1 203.7v17.6M2021.3 207.7l9.6 9.6M2021.3 217.3l9.6 -9.6M2024.5 210.9h3.2v3.2h-3.2zM2024.3 209.2h17.6M2033.1 200.4v17.6M2028.3 204.4l9.6 9.6M2028.3 214.0l9.6 -9.6M2031.5 207.6h3.2v3.2h-3.2zM2031.3 205.9h17.6M2040.1 197.1v17.6M2035.3 201.1l9.6 9.6M2035.3 210.7l9.6 -9.6M2038.5 204.3h3.2v3.2h-3.2zM2038.4 202.6h17.6M2047.2 193.8v17.6M2042.4 197.8l9.6 9.6M2042.4 207.4l9.6 -9.6M2045.6 201.0h3.2v3.2h-3.2zM2045.4 199.3h17.6M2054.2 190.5v17.6M2049.4 194.5l9.6 9.6M2049.4 204.1l9.6 -9.6M2052.6 197.7h3.2v3.2h-3.2zM2052.4 196.1h17.6M2061.2 187.3v17.6M2056.4 191.3l9.6 9.6M2056.4 200.9l9.6 -9.6M2059.6 194.5h3.2v3.2h-3.2zM2059.4 192.8h17.6M2068.2 184.0v17.6M2063.4 188.0l9.6 9.6M2063.4 197.6l9.6 -9.6M2066.6 191.2h3.2v3.2h-3.2zM2066.4 189.5h17.6M2075.2 180.7v17.6M2070.4 184.7l9.6 9.6M2070.4 194.3l9.6 -9.6M2073.6 187.9h3.2v3.2h-3.2zM2073.4 186.0h17.6M2082.2 177.2v17.6M2077.4 181.2l9.6 9.6M2077.4 190.8l9.6 -9.6M2080.6 184.4h3.2v3.2h-3.2zM2080.4 181.9h17.6M2089.2 173.1v17.6M2084.4 177.1l9.6 9.6M2084.4 186.7l9.6 -9.6M2087.6 180.3h3.2v3.2h-3.2zM2087.4 177.7h17.6M2096.2 168.9v17.6M2091.4 172.9l9.6 9.6M2091.4 182.5l9.6 -9.6M2094.6 176.1h3.2v3.2h-3.2zM2094.3 174.1h17.6M2103.1 165.3v17.6M2098.3 169.3l9.6 9.6M2098.3 178.9l9.6 -9.6M2101.5 172.5h3.2v3.2h-3.2zM2101.3 170.9h17.6M2110.1 162.1v17.6M2105.3 166.1l9.6 9.6M2105.3 175.7l9.6 -9.6M2108.5 169.3h3.2v3.2h-3.2zM2108.3 168.0h17.6M2117.1 159.2v17.6M2112.3 163.2l9.6 9.6M2112.3 172.8l9.6 -9.6M2115.5 166.4h3.2v3.2h-3.2zM2115.3 165.7h17.6M2124.1 156.9v17.6M2119.3 160.9l9.6 9.6M2119.3 170.5l9.6 -9.6M2122.5 164.1h3.2v3.2h-3.2zM2122.2 163.7h17.6M2131.0 154.9v17.6M2126.2 158.9l9.6 9.6M2126.2 168.5l9.6 -9.6M2129.4 162.1h3.2v3.2h-3.2zM2129.2 163.3h17.6M2138.0 154.5v17.6M2133.2 158.5l9.6 9.6M2133.2 168.1l9.6 -9.6M2136.4 161.7h3.2v3.2h-3.2zM2136.1 164.6h17.6M2144.9 155.8v17.6M2140.1 159.8l9.6 9.6M2140.1 169.4l9.6 -9.6M2143.3 163.0h3.2v3.2h-3.2zM2143.1 166.5h17.6M2151.9 157.7v17.6M2147.1 161.7l9.6 9.6M2147.1 171.3l9.6 -9.6M2150.3 164.9h3.2v3.2h-3.2zM2150.0 168.5h17.6M2158.8 159.7v17.6M2154.0 163.7l9.6 9.6M2154.0 173.3l9.6 -9.6M2157.2 166.9h3.2v3.2h-3.2zM2157.0 170.7h17.6M2165.8 161.9v17.6M2161.0 165.9l9.6 9.6M2161.0 175.5l9.6 -9.6M2164.2 169.1h3.2v3.2h-3.2zM2163.9 173.2h17.6M2172.7 164.4v17.6M2167.9 168.4l9.6 9.6M2167.9 178.0l9.6 -9.6M2171.1 171.6h3.2v3.2h-3.2zM2170.9 175.9h17.6M2179.7 167.1v17.6M2174.9 171.1l9.6 9.6M2174.9 180.7l9.6 -9.6M2178.1 174.3h3.2v3.2h-3.2zM2177.8 179.0h17.6M2186.6 170.2v17.6M2181.8 174.2l9.6 9.6M2181.8 183.8l9.6 -9.6M2185.0 177.4h3.2v3.2h-3.2zM2184.8 182.3h17.6M2193.6 173.5v17.6M2188.8 177.5l9.6 9.6M2188.8 187.1l9.6 -9.6M2192.0 180.7h3.2v3.2h-3.2zM2191.7 185.3h17.6M2200.5 176.5v17.6M2195.7 180.5l9.6 9.6M2195.7 190.1l9.6 -9.6M2198.9 183.7h3.2v3.2h-3.2zM2198.7 188.1h17.6M2207.5 179.3v17.6M2202.7 183.3l9.6 9.6M2202.7 192.9l9.6 -9.6M2205.9 186.5h3.2v3.2h-3.2zM2205.6 190.8h17.6M2214.4 182.0v17.6M2209.6 186.0l9.6 9.6M2209.6 195.6l9.6 -9.6M2212.8 189.2h3.2v3.2h-3.2zM2212.6 192.9h17.6M2221.4 184.1v17.6M2216.6 188.1l9.6 9.6M2216.6 197.7l9.6 -9.6M2219.8 191.3h3.2v3.2h-3.2zM2219.5 194.3h17.6M2228.3 185.5v17.6M2223.5 189.5l9.6 9.6M2223.5 199.1l9.6 -9.6M2226.7 192.7h3.2v3.2h-3.2zM2226.4 194.8h17.6M2235.2 186.0v17.6M2230.4 190.0l9.6 9.6M2230.4 199.6l9.6 -9.6M2233.6 193.2h3.2v3.2h-3.2z" fill="none" stroke="#000" stroke-width="2.1"/><path d="M1864.2 305.1a7.6 7.6 0 1 0 15.2 0a7.6 7.6 0 1 0 -15.2 0M1872.1 293.6a7.6 7.6 0 1 0 15.2 0a7.6 7.6 0 1 0 -15.2 0M1879.9 284.0a7.6 7.6 0 1 0 15.2 0a7.6 7.6 0 1 0 -15.2 0M1887.6 275.9a7.6 7.6 0 1 0 15.2 0a7.6 7.6 0 1 0 -15.2 0M1895.2 269.1a7.6 7.6 0 1 0 15.2 0a7.6 7.6 0 1 0 -15.2 0M1902.8 263.6a7.6 7.6 0 1 0 15.2 0a7.6 7.6 0 1 0 -15.2 0M1910.3 258.6a7.6 7.6 0 1 0 15.2 0a7.6 7.6 0 1 0 -15.2 0M1917.7 254.0a7.6 7.6 0 1 0 15.2 0a7.6 7.6 0 1 0 -15.2 0M1925.1 249.6a7.6 7.6 0 1 0 15.2 0a7.6 7.6 0 1 0 -15.2 0M1932.5 245.7a7.6 7.6 0 1 0 15.2 0a7.6 7.6 0 1 0 -15.2 0M1939.8 242.0a7.6 7.6 0 1 0 15.2 0a7.6 7.6 0 1 0 -15.2 0M1947.1 238.7a7.6 7.6 0 1 0 15.2 0a7.6 7.6 0 1 0 -15.2 0M1954.3 235.6a7.6 7.6 0 1 0 15.2 0a7.6 7.6 0 1 0 -15.2 0M1961.5 232.7a7.6 7.6 0 1 0 15.2 0a7.6 7.6 0 1 0 -15.2 0M1968.7 229.9a7.6 7.6 0 1 0 15.2 0a7.6 7.6 0 1 0 -15.2 0M1975.9 227.4a7.6 7.6 0 1 0 15.2 0a7.6 7.6 0 1 0 -15.2 0M1983.0 225.0a7.6 7.6 0 1 0 15.2 0a7.6 7.6 0 1 0 -15.2 0M1990.1 222.9a7.6 7.6 0 1 0 15.2 0a7.6 7.6 0 1 0 -15.2 0M1997.2 220.9a7.6 7.6 0 1 0 15.2 0a7.6 7.6 0 1 0 -15.2 0M2004.3 218.7a7.6 7.6 0 1 0 15.2 0a7.6 7.6 0 1 0 -15.2 0M2011.4 216.1a7.6 7.6 0 1 0 15.2 0a7.6 7.6 0 1 0 -15.2 0M2018.5 213.0a7.6 7.6 0 1 0 15.2 0a7.6 7.6 0 1 0 -15.2 0M2025.5 209.7a7.6 7.6 0 1 0 15.2 0a7.6 7.6 0 1 0 -15.2 0M2032.5 206.1a7.6 7.6 0 1 0 15.2 0a7.6 7.6 0 1 0 -15.2 0M2039.6 202.6a7.6 7.6 0 1 0 15.2 0a7.6 7.6 0 1 0 -15.2 0M2046.6 199.3a7.6 7.6 0 1 0 15.2 0a7.6 7.6 0 1 0 -15.2 0M2053.6 196.1a7.6 7.6 0 1 0 15.2 0a7.6 7.6 0 1 0 -15.2 0M2060.6 192.8a7.6 7.6 0 1 0 15.2 0a7.6 7.6 0 1 0 -15.2 0M2067.6 189.5a7.6 7.6 0 1 0 15.2 0a7.6 7.6 0 1 0 -15.2 0M2074.6 186.0a7.6 7.6 0 1 0 15.2 0a7.6 7.6 0 1 0 -15.2 0M2081.6 181.9a7.6 7.6 0 1 0 15.2 0a7.6 7.6 0 1 0 -15.2 0M2088.6 177.7a7.6 7.6 0 1 0 15.2 0a7.6 7.6 0 1 0 -15.2 0M2095.5 174.1a7.6 7.6 0 1 0 15.2 0a7.6 7.6 0 1 0 -15.2 0M2102.5 170.9a7.6 7.6 0 1 0 15.2 0a7.6 7.6 0 1 0 -15.2 0M2109.5 168.0a7.6 7.6 0 1 0 15.2 0a7.6 7.6 0 1 0 -15.2 0M2116.5 165.7a7.6 7.6 0 1 0 15.2 0a7.6 7.6 0 1 0 -15.2 0M2123.4 163.7a7.6 7.6 0 1 0 15.2 0a7.6 7.6 0 1 0 -15.2 0M2130.4 163.3a7.6 7.6 0 1 0 15.2 0a7.6 7.6 0 1 0 -15.2 0M2137.3 164.6a7.6 7.6 0 1 0 15.2 0a7.6 7.6 0 1 0 -15.2 0M2144.3 166.5a7.6 7.6 0 1 0 15.2 0a7.6 7.6 0 1 0 -15.2 0M2151.2 168.5a7.6 7.6 0 1 0 15.2 0a7.6 7.6 0 1 0 -15.2 0M2158.2 170.7a7.6 7.6 0 1 0 15.2 0a7.6 7.6 0 1 0 -15.2 0M2165.1 173.2a7.6 7.6 0 1 0 15.2 0a7.6 7.6 0 1 0 -15.2 0M2172.1 175.9a7.6 7.6 0 1 0 15.2 0a7.6 7.6 0 1 0 -15.2 0M2179.0 179.0a7.6 7.6 0 1 0 15.2 0a7.6 7.6 0 1 0 -15.2 0M2186.0 182.3a7.6 7.6 0 1 0 15.2 0a7.6 7.6 0 1 0 -15.2 0M2192.9 185.3a7.6 7.6 0 1 0 15.2 0a7.6 7.6 0 1 0 -15.2 0M2199.9 188.1a7.6 7.6 0 1 0 15.2 0a7.6 7.6 0 1 0 -15.2 0M2206.8 190.8a7.6 7.6 0 1 0 15.2 0a7.6 7.6 0 1 0 -15.2 0M2213.8 192.9a7.6 7.6 0 1 0 15.2 0a7.6 7.6 0 1 0 -15.2 0M2220.7 194.3a7.6 7.6 0 1 0 15.2 0a7.6 7.6 0 1 0 -15.2 0M2227.6 194.8a7.6 7.6 0 1 0 15.2 0a7.6 7.6 0 1 0 -15.2 0" fill="none" stroke="#000" stroke-width="2.1"/><path d="M1784.4 433.9h17.6M1793.2 425.1v17.6M1788.4 429.1l9.6 9.6M1788.4 438.7l9.6 -9.6M1791.6 432.3h3.2v3.2h-3.2zM1794.1 419.4h17.6M1802.9 410.6v17.6M1798.1 414.6l9.6 9.6M1798.1 424.2l9.6 -9.6M1801.3 417.8h3.2v3.2h-3.2zM1803.5 405.7h17.6M1812.3 396.9v17.6M1807.5 400.9l9.6 9.6M1807.5 410.5l9.6 -9.6M1810.7 404.1h3.2v3.2h-3.2zM1812.6 391.7h17.6M1821.4 382.9v17.6M1816.6 386.9l9.6 9.6M1816.6 396.5l9.6 -9.6M1819.8 390.1h3.2v3.2h-3.2zM1821.5 381.2h17.6M1830.3 372.4v17.6M1825.5 376.4l9.6 9.6M1825.5 386.0l9.6 -9.6M1828.7 379.6h3.2v3.2h-3.2zM1830.1 368.0h17.6M1838.9 359.2v17.6M1834.1 363.2l9.6 9.6M1834.1 372.8l9.6 -9.6M1837.3 366.4h3.2v3.2h-3.2zM1838.6 353.5h17.6M1847.4 344.7v17.6M1842.6 348.7l9.6 9.6M1842.6 358.3l9.6 -9.6M1845.8 351.9h3.2v3.2h-3.2zM1846.8 340.1h17.6M1855.6 331.3v17.6M1850.8 335.3l9.6 9.6M1850.8 344.9l9.6 -9.6M1854.0 338.5h3.2v3.2h-3.2zM1855.0 327.3h17.6M1863.8 318.5v17.6M1859.0 322.5l9.6 9.6M1859.0 332.1l9.6 -9.6M1862.2 325.7h3.2v3.2h-3.2z" fill="none" stroke="#000" stroke-width="1.9"/><path d="M1785.6 483.3a7.6 7.6 0 1 0 15.2 0a7.6 7.6 0 1 0 -15.2 0M1795.3 463.9a7.6 7.6 0 1 0 15.2 0a7.6 7.6 0 1 0 -15.2 0M1804.7 444.8a7.6 7.6 0 1 0 15.2 0a7.6 7.6 0 1 0 -15.2 0M1813.8 422.0a7.6 7.6 0 1 0 15.2 0a7.6 7.6 0 1 0 -15.2 0M1822.7 401.5a7.6 7.6 0 1 0 15.2 0a7.6 7.6 0 1 0 -15.2 0M1831.3 377.2a7.6 7.6 0 1 0 15.2 0a7.6 7.6 0 1 0 -15.2 0M1839.8 353.8a7.6 7.6 0 1 0 15.2 0a7.6 7.6 0 1 0 -15.2 0M1848.0 334.2a7.6 7.6 0 1 0 15.2 0a7.6 7.6 0 1 0 -15.2 0M1856.2 318.4a7.6 7.6 0 1 0 15.2 0a7.6 7.6 0 1 0 -15.2 0" fill="none" stroke="#000" stroke-width="1.9"/><path d="M1727.3 520.5h17.6M1736.1 511.7v17.6M1731.3 515.7l9.6 9.6M1731.3 525.3l9.6 -9.6M1734.5 518.9h3.2v3.2h-3.2zM1740.3 501.5h17.6M1749.1 492.7v17.6M1744.3 496.7l9.6 9.6M1744.3 506.3l9.6 -9.6M1747.5 499.9h3.2v3.2h-3.2zM1752.3 485.2h17.6M1761.1 476.4v17.6M1756.3 480.4l9.6 9.6M1756.3 490.0l9.6 -9.6M1759.5 483.6h3.2v3.2h-3.2zM1763.6 467.7h17.6M1772.4 458.9v17.6M1767.6 462.9l9.6 9.6M1767.6 472.5l9.6 -9.6M1770.8 466.1h3.2v3.2h-3.2zM1774.2 450.4h17.6M1783.0 441.6v17.6M1778.2 445.6l9.6 9.6M1778.2 455.2l9.6 -9.6M1781.4 448.8h3.2v3.2h-3.2zM2238.7 184.0h17.6M2247.5 175.2v17.6M2242.7 179.2l9.6 9.6M2242.7 188.8l9.6 -9.6M2245.9 182.4h3.2v3.2h-3.2z" fill="none" stroke="#000" stroke-width="1.7"/><path d="M1728.5 557.4a7.6 7.6 0 1 0 15.2 0a7.6 7.6 0 1 0 -15.2 0M1741.5 544.5a7.6 7.6 0 1 0 15.2 0a7.6 7.6 0 1 0 -15.2 0M1753.5 531.1a7.6 7.6 0 1 0 15.2 0a7.6 7.6 0 1 0 -15.2 0M1764.8 517.4a7.6 7.6 0 1 0 15.2 0a7.6 7.6 0 1 0 -15.2 0M1775.4 501.2a7.6 7.6 0 1 0 15.2 0a7.6 7.6 0 1 0 -15.2 0M2239.9 184.0a7.6 7.6 0 1 0 15.2 0a7.6 7.6 0 1 0 -15.2 0" fill="none" stroke="#000" stroke-width="1.7"/><path d="M1504.6 616.1h17.6M1513.4 607.3v17.6M1508.6 611.3l9.6 9.6M1508.6 620.9l9.6 -9.6M1511.8 614.5h3.2v3.2h-3.2zM1588.2 603.5h17.6M1597.0 594.7v17.6M1592.2 598.7l9.6 9.6M1592.2 608.3l9.6 -9.6M1595.4 601.9h3.2v3.2h-3.2zM1628.9 591.5h17.6M1637.7 582.7v17.6M1632.9 586.7l9.6 9.6M1632.9 596.3l9.6 -9.6M1636.1 589.9h3.2v3.2h-3.2zM1656.9 579.6h17.6M1665.7 570.8v17.6M1660.9 574.8l9.6 9.6M1660.9 584.4l9.6 -9.6M1664.1 578.0h3.2v3.2h-3.2zM1678.8 568.1h17.6M1687.6 559.3v17.6M1682.8 563.3l9.6 9.6M1682.8 572.9l9.6 -9.6M1686.0 566.5h3.2v3.2h-3.2zM1697.1 551.8h17.6M1705.9 543.0v17.6M1701.1 547.0l9.6 9.6M1701.1 556.6l9.6 -9.6M1704.3 550.2h3.2v3.2h-3.2zM1713.1 538.6h17.6M1721.9 529.8v17.6M1717.1 533.8l9.6 9.6M1717.1 543.4l9.6 -9.6M1720.3 537.0h3.2v3.2h-3.2z" fill="none" stroke="#000" stroke-width="1.5"/><path d="M1505.8 617.1a7.6 7.6 0 1 0 15.2 0a7.6 7.6 0 1 0 -15.2 0M1589.4 610.8a7.6 7.6 0 1 0 15.2 0a7.6 7.6 0 1 0 -15.2 0M1630.1 604.8a7.6 7.6 0 1 0 15.2 0a7.6 7.6 0 1 0 -15.2 0M1658.1 596.6a7.6 7.6 0 1 0 15.2 0a7.6 7.6 0 1 0 -15.2 0M1680.0 587.5a7.6 7.6 0 1 0 15.2 0a7.6 7.6 0 1 0 -15.2 0M1698.3 578.4a7.6 7.6 0 1 0 15.2 0a7.6 7.6 0 1 0 -15.2 0M1714.3 568.5a7.6 7.6 0 1 0 15.2 0a7.6 7.6 0 1 0 -15.2 0" fill="none" stroke="#000" stroke-width="1.5"/><rect x="1485.7" y="39.0" width="834.5" height="583.6" fill="none" stroke="#000" stroke-width="1.8"/><path d="M1535.9 622.6v-4.6M1535.9 39.0v4.6M1565.3 622.6v-4.6M1565.3 39.0v4.6M1586.2 622.6v-4.6M1586.2 39.0v4.6M1602.4 622.6v-4.6M1602.4 39.0v4.6M1615.6 622.6v-4.6M1615.6 39.0v4.6M1626.7 622.6v-4.6M1626.7 39.0v4.6M1636.4 622.6v-4.6M1636.4 39.0v4.6M1645.0 622.6v-4.6M1645.0 39.0v4.6M1652.6 622.6v-9.0M1652.6 39.0v9.0M1702.8 622.6v-4.6M1702.8 39.0v4.6M1732.2 622.6v-4.6M1732.2 39.0v4.6M1753.1 622.6v-4.6M1753.1 39.0v4.6M1769.3 622.6v-4.6M1769.3 39.0v4.6M1782.5 622.6v-4.6M1782.5 39.0v4.6M1793.6 622.6v-4.6M1793.6 39.0v4.6M1803.3 622.6v-4.6M1803.3 39.0v4.6M1811.9 622.6v-4.6M1811.9 39.0v4.6M1819.5 622.6v-9.0M1819.5 39.0v9.0M1869.7 622.6v-4.6M1869.7 39.0v4.6M1899.1 622.6v-4.6M1899.1 39.0v4.6M1920.0 622.6v-4.6M1920.0 39.0v4.6M1936.2 622.6v-4.6M1936.2 39.0v4.6M1949.4 622.6v-4.6M1949.4 39.0v4.6M1960.5 622.6v-4.6M1960.5 39.0v4.6M1970.2 622.6v-4.6M1970.2 39.0v4.6M1978.8 622.6v-4.6M1978.8 39.0v4.6M1986.4 622.6v-9.0M1986.4 39.0v9.0M2036.6 622.6v-4.6M2036.6 39.0v4.6M2066.0 622.6v-4.6M2066.0 39.0v4.6M2086.9 622.6v-4.6M2086.9 39.0v4.6M2103.1 622.6v-4.6M2103.1 39.0v4.6M2116.3 622.6v-4.6M2116.3 39.0v4.6M2127.4 622.6v-4.6M2127.4 39.0v4.6M2137.1 622.6v-4.6M2137.1 39.0v4.6M2145.7 622.6v-4.6M2145.7 39.0v4.6M2153.3 622.6v-9.0M2153.3 39.0v9.0M2203.5 622.6v-4.6M2203.5 39.0v4.6M2232.9 622.6v-4.6M2232.9 39.0v4.6M2253.8 622.6v-4.6M2253.8 39.0v4.6M2270.0 622.6v-4.6M2270.0 39.0v4.6M2283.2 622.6v-4.6M2283.2 39.0v4.6M2294.3 622.6v-4.6M2294.3 39.0v4.6M2304.0 622.6v-4.6M2304.0 39.0v4.6M2312.6 622.6v-4.6M2312.6 39.0v4.6M1485.7 428.1h8.5M2320.2 428.1h-8.5M1485.7 233.5h8.5M2320.2 233.5h-8.5" stroke="#000" stroke-width="1.8" fill="none"/></g>
<g id="panel-c"><path d="M262.1 1526.9 L264.7 1526.9 L267.3 1526.9 L269.9 1526.9 L272.5 1526.9 L275.1 1526.8 L277.7 1526.8 L280.3 1526.8 L282.9 1526.8 L285.5 1526.7 L288.0 1526.7 L290.6 1526.7 L293.2 1526.6 L295.8 1526.6 L298.4 1526.5 L301.0 1526.5 L303.6 1526.4 L306.2 1526.3 L308.8 1526.3 L311.4 1526.2 L314.0 1526.1 L316.6 1526.1 L319.2 1526.0 L321.8 1525.9 L324.4 1525.8 L327.0 1525.7 L329.6 1525.7 L332.2 1525.6 L334.8 1525.5 L337.3 1525.4 L339.9 1525.3 L342.5 1525.2 L345.1 1525.1 L347.7 1525.0 L350.3 1524.9 L352.9 1524.8 L355.5 1524.7 L358.1 1524.6 L360.7 1524.4 L363.3 1524.2 L365.9 1524.0 L368.5 1523.8 L371.1 1523.6 L373.7 1523.4 L376.3 1523.1 L378.9 1522.9 L381.5 1522.6 L384.0 1522.3 L386.6 1522.0 L389.2 1521.7 L391.8 1521.4 L394.4 1521.1 L397.0 1520.8 L399.6 1520.4 L402.2 1520.1 L404.8 1519.7 L407.4 1519.4 L410.0 1519.0 L412.6 1518.7 L415.2 1518.3 L417.8 1517.8 L420.4 1517.4 L423.0 1516.9 L425.6 1516.3 L428.2 1515.8 L430.8 1515.2 L433.3 1514.6 L435.9 1514.0 L438.5 1513.3 L441.1 1512.7 L443.7 1512.0 L446.3 1511.4 L448.9 1510.7 L451.5 1509.9 L454.1 1509.2 L456.7 1508.4 L459.3 1507.6 L461.9 1506.8 L464.5 1505.9 L467.1 1505.0 L469.7 1504.1 L472.3 1503.2 L474.9 1502.2 L477.5 1501.3 L480.1 1500.3 L482.6 1499.3 L485.2 1498.2 L487.8 1497.2 L490.4 1496.1 L493.0 1495.0 L495.6 1493.8 L498.2 1492.6 L500.8 1491.4 L503.4 1490.2 L506.0 1488.9 L508.6 1487.6 L511.2 1486.2 L513.8 1484.8 L516.4 1483.3 L519.0 1481.9 L521.6 1480.3 L524.2 1478.7 L526.8 1477.1 L529.3 1475.4 L531.9 1473.6 L534.5 1471.8 L537.1 1469.8 L539.7 1467.8 L542.3 1465.7 L544.9 1463.6 L547.5 1461.3 L550.1 1459.0 L552.7 1456.5 L555.3 1454.0 L557.9 1451.4 L560.5 1448.6 L563.1 1445.5 L565.7 1442.3 L568.3 1438.9 L570.9 1435.3 L573.5 1431.6 L576.1 1427.9 L578.6 1424.0 L581.2 1420.1 L583.8 1416.2 L586.4 1412.2 L589.0 1408.1 L591.6 1403.7 L594.2 1399.3 L596.8 1394.7 L599.4 1390.1 L602.0 1385.6 L604.6 1381.1 L607.2 1376.7 L609.8 1372.3 L612.4 1367.9 L615.0 1363.5 L617.6 1359.1 L620.2 1354.7 L622.8 1350.4 L625.4 1346.2 L627.9 1342.0 L630.5 1337.8 L633.1 1333.8 L635.7 1329.8 L638.3 1325.9 L640.9 1322.1 L643.5 1318.2 L646.1 1314.4 L648.7 1310.6 L651.3 1306.7 L653.9 1302.9 L656.5 1299.0 L659.1 1295.0 L661.7 1291.1 L664.3 1287.1 L666.9 1283.1 L669.5 1279.2 L672.1 1275.4 L674.6 1271.5 L677.2 1267.8 L679.8 1264.1 L682.4 1260.5 L685.0 1256.9 L687.6 1253.3 L690.2 1249.8 L692.8 1246.4 L695.4 1243.0 L698.0 1239.6 L700.6 1236.4 L703.2 1233.2 L705.8 1230.0 L708.4 1226.9 L711.0 1223.8 L713.6 1220.7 L716.2 1217.7 L718.8 1214.7 L721.4 1211.8 L723.9 1208.9 L726.5 1206.1 L729.1 1203.4 L731.7 1200.7 L734.3 1198.1 L736.9 1195.5 L739.5 1193.0 L742.1 1190.4 L744.7 1187.9 L747.3 1185.4 L749.9 1183.0 L752.5 1180.7 L755.1 1178.4 L757.7 1176.2 L760.3 1174.2 L762.9 1172.2 L765.5 1170.4 L768.1 1168.8 L770.7 1167.2 L773.2 1165.6 L775.8 1164.1 L778.4 1162.6 L781.0 1161.3 L783.6 1159.9 L786.2 1158.7 L788.8 1157.6 L791.4 1156.6 L794.0 1155.7 L796.6 1154.9 L799.2 1154.2 L801.8 1153.6 L804.4 1153.0 L807.0 1152.5 L809.6 1152.0 L812.2 1151.5 L814.8 1151.0 L817.4 1150.5 L819.9 1150.0 L822.5 1149.4 L825.1 1148.7 L827.7 1148.1 L830.3 1147.4 L832.9 1146.7 L835.5 1145.9 L838.1 1145.2 L840.7 1144.4 L843.3 1143.6 L845.9 1142.7 L848.5 1141.8 L851.1 1140.9 L853.7 1139.9 L856.3 1138.9 L858.9 1137.8 L861.5 1136.6 L864.1 1135.4 L866.7 1134.0 L869.2 1132.6 L871.8 1131.1 L874.4 1129.6 L877.0 1128.0 L879.6 1126.4 L882.2 1124.8 L884.8 1123.2 L887.4 1121.5 L890.0 1119.9 L892.6 1118.1 L895.2 1116.2 L897.8 1114.3 L900.4 1112.3 L903.0 1110.3 L905.6 1108.3 L908.2 1106.4 L910.8 1104.5 L913.4 1102.8 L916.0 1101.1 L918.5 1099.6 L921.1 1097.9 L923.7 1096.1 L926.3 1094.5 L928.9 1093.0 L931.5 1091.8 L934.1 1090.9 L936.7 1090.6 L939.3 1090.6 L941.9 1090.6 L944.5 1090.6 L947.1 1090.6 L949.7 1090.6 L952.3 1090.6 L954.9 1090.6 L957.5 1090.6 L960.1 1090.6 L962.7 1090.6 L965.2 1090.8 L967.8 1091.2 L970.4 1091.7 L973.0 1092.3 L975.6 1093.0 L978.2 1093.8 L980.8 1094.7 L983.4 1095.6 L986.0 1096.6 L988.6 1097.5 L991.2 1098.5 L993.8 1099.4 L996.4 1100.3 L999.0 1101.2 L1001.6 1102.1 L1004.2 1103.0 L1006.8 1103.9 L1009.4 1104.8 L1012.0 1105.8 L1014.5 1106.8 L1017.1 1107.8 L1019.7 1108.9 L1022.3 1110.0 L1024.9 1111.0 L1027.5 1112.2 L1030.1 1113.3 L1032.7 1114.4 L1035.3 1115.6 L1037.9 1116.8" fill="none" stroke="#000" stroke-width="1.7" stroke-linejoin="round"/><path d="M666.6 1261.8h17.6M675.4 1253.0v17.6M670.6 1257.0l9.6 9.6M670.6 1266.6l9.6 -9.6M673.8 1260.2h3.2v3.2h-3.2zM674.6 1252.5h17.6M683.4 1243.7v17.6M678.6 1247.7l9.6 9.6M678.6 1257.3l9.6 -9.6M681.8 1250.9h3.2v3.2h-3.2zM682.4 1243.8h17.6M691.2 1235.0v17.6M686.4 1239.0l9.6 9.6M686.4 1248.6l9.6 -9.6M689.6 1242.2h3.2v3.2h-3.2zM690.2 1235.3h17.6M699.0 1226.5v17.6M694.2 1230.5l9.6 9.6M694.2 1240.1l9.6 -9.6M697.4 1233.7h3.2v3.2h-3.2zM698.0 1226.7h17.6M706.8 1217.9v17.6M702.0 1221.9l9.6 9.6M702.0 1231.5l9.6 -9.6M705.2 1225.1h3.2v3.2h-3.2zM705.7 1218.3h17.6M714.5 1209.5v17.6M709.7 1213.5l9.6 9.6M709.7 1223.1l9.6 -9.6M712.9 1216.7h3.2v3.2h-3.2zM713.3 1209.9h17.6M722.1 1201.1v17.6M717.3 1205.1l9.6 9.6M717.3 1214.7l9.6 -9.6M720.5 1208.3h3.2v3.2h-3.2zM720.9 1201.5h17.6M729.7 1192.7v17.6M724.9 1196.7l9.6 9.6M724.9 1206.3l9.6 -9.6M728.1 1199.9h3.2v3.2h-3.2zM728.5 1192.9h17.6M737.3 1184.1v17.6M732.5 1188.1l9.6 9.6M732.5 1197.7l9.6 -9.6M735.7 1191.3h3.2v3.2h-3.2zM736.0 1184.4h17.6M744.8 1175.6v17.6M740.0 1179.6l9.6 9.6M740.0 1189.2l9.6 -9.6M743.2 1182.8h3.2v3.2h-3.2zM743.4 1177.1h17.6M752.2 1168.3v17.6M747.4 1172.3l9.6 9.6M747.4 1181.9l9.6 -9.6M750.6 1175.5h3.2v3.2h-3.2zM750.9 1170.7h17.6M759.7 1161.9v17.6M754.9 1165.9l9.6 9.6M754.9 1175.5l9.6 -9.6M758.1 1169.1h3.2v3.2h-3.2zM758.3 1164.9h17.6M767.1 1156.1v17.6M762.3 1160.1l9.6 9.6M762.3 1169.7l9.6 -9.6M765.5 1163.3h3.2v3.2h-3.2zM765.7 1159.9h17.6M774.5 1151.1v17.6M769.7 1155.1l9.6 9.6M769.7 1164.7l9.6 -9.6M772.9 1158.3h3.2v3.2h-3.2zM773.1 1155.7h17.6M781.9 1146.9v17.6M777.1 1150.9l9.6 9.6M777.1 1160.5l9.6 -9.6M780.3 1154.1h3.2v3.2h-3.2zM780.4 1151.9h17.6M789.2 1143.1v17.6M784.4 1147.1l9.6 9.6M784.4 1156.7l9.6 -9.6M787.6 1150.3h3.2v3.2h-3.2zM787.8 1148.5h17.6M796.6 1139.7v17.6M791.8 1143.7l9.6 9.6M791.8 1153.3l9.6 -9.6M795.0 1146.9h3.2v3.2h-3.2zM795.1 1145.5h17.6M803.9 1136.7v17.6M799.1 1140.7l9.6 9.6M799.1 1150.3l9.6 -9.6M802.3 1143.9h3.2v3.2h-3.2zM802.4 1142.8h17.6M811.2 1134.0v17.6M806.4 1138.0l9.6 9.6M806.4 1147.6l9.6 -9.6M809.6 1141.2h3.2v3.2h-3.2zM809.7 1139.8h17.6M818.5 1131.0v17.6M813.7 1135.0l9.6 9.6M813.7 1144.6l9.6 -9.6M816.9 1138.2h3.2v3.2h-3.2zM816.9 1136.6h17.6M825.7 1127.8v17.6M820.9 1131.8l9.6 9.6M820.9 1141.4l9.6 -9.6M824.1 1135.0h3.2v3.2h-3.2zM824.2 1133.2h17.6M833.0 1124.4v17.6M828.2 1128.4l9.6 9.6M828.2 1138.0l9.6 -9.6M831.4 1131.6h3.2v3.2h-3.2zM831.5 1129.9h17.6M840.3 1121.1v17.6M835.5 1125.1l9.6 9.6M835.5 1134.7l9.6 -9.6M838.7 1128.3h3.2v3.2h-3.2zM838.7 1126.5h17.6M847.5 1117.7v17.6M842.7 1121.7l9.6 9.6M842.7 1131.3l9.6 -9.6M845.9 1124.9h3.2v3.2h-3.2zM846.0 1123.1h17.6M854.8 1114.3v17.6M850.0 1118.3l9.6 9.6M850.0 1127.9l9.6 -9.6M853.2 1121.5h3.2v3.2h-3.2zM853.2 1119.5h17.6M862.0 1110.7v17.6M857.2 1114.7l9.6 9.6M857.2 1124.3l9.6 -9.6M860.4 1117.9h3.2v3.2h-3.2zM860.4 1115.7h17.6M869.2 1106.9v17.6M864.4 1110.9l9.6 9.6M864.4 1120.5l9.6 -9.6M867.6 1114.1h3.2v3.2h-3.2zM867.6 1111.7h17.6M876.4 1102.9v17.6M871.6 1106.9l9.6 9.6M871.6 1116.5l9.6 -9.6M874.8 1110.1h3.2v3.2h-3.2zM874.9 1107.4h17.6M883.7 1098.6v17.6M878.9 1102.6l9.6 9.6M878.9 1112.2l9.6 -9.6M882.1 1105.8h3.2v3.2h-3.2zM882.1 1102.4h17.6M890.9 1093.6v17.6M886.1 1097.6l9.6 9.6M886.1 1107.2l9.6 -9.6M889.3 1100.8h3.2v3.2h-3.2zM889.3 1097.1h17.6M898.1 1088.3v17.6M893.3 1092.3l9.6 9.6M893.3 1101.9l9.6 -9.6M896.5 1095.5h3.2v3.2h-3.2zM896.5 1092.2h17.6M905.3 1083.4v17.6M900.5 1087.4l9.6 9.6M900.5 1097.0l9.6 -9.6M903.7 1090.6h3.2v3.2h-3.2zM903.7 1086.9h17.6M912.5 1078.1v17.6M907.7 1082.1l9.6 9.6M907.7 1091.7l9.6 -9.6M910.9 1085.3h3.2v3.2h-3.2zM910.9 1082.0h17.6M919.7 1073.2v17.6M914.9 1077.2l9.6 9.6M914.9 1086.8l9.6 -9.6M918.1 1080.4h3.2v3.2h-3.2zM918.0 1080.0h17.6M926.8 1071.2v17.6M922.0 1075.2l9.6 9.6M922.0 1084.8l9.6 -9.6M925.2 1078.4h3.2v3.2h-3.2zM925.2 1080.7h17.6M934.0 1071.9v17.6M929.2 1075.9l9.6 9.6M929.2 1085.5l9.6 -9.6M932.4 1079.1h3.2v3.2h-3.2zM932.4 1082.2h17.6M941.2 1073.4v17.6M936.4 1077.4l9.6 9.6M936.4 1087.0l9.6 -9.6M939.6 1080.6h3.2v3.2h-3.2zM939.6 1083.9h17.6M948.4 1075.1v17.6M943.6 1079.1l9.6 9.6M943.6 1088.7l9.6 -9.6M946.8 1082.3h3.2v3.2h-3.2zM946.8 1085.7h17.6M955.6 1076.9v17.6M950.8 1080.9l9.6 9.6M950.8 1090.5l9.6 -9.6M954.0 1084.1h3.2v3.2h-3.2zM954.0 1087.7h17.6M962.8 1078.9v17.6M958.0 1082.9l9.6 9.6M958.0 1092.5l9.6 -9.6M961.2 1086.1h3.2v3.2h-3.2zM961.1 1089.8h17.6M969.9 1081.0v17.6M965.1 1085.0l9.6 9.6M965.1 1094.6l9.6 -9.6M968.3 1088.2h3.2v3.2h-3.2zM968.3 1091.8h17.6M977.1 1083.0v17.6M972.3 1087.0l9.6 9.6M972.3 1096.6l9.6 -9.6M975.5 1090.2h3.2v3.2h-3.2zM975.5 1093.7h17.6M984.3 1084.9v17.6M979.5 1088.9l9.6 9.6M979.5 1098.5l9.6 -9.6M982.7 1092.1h3.2v3.2h-3.2zM982.7 1095.7h17.6M991.5 1086.9v17.6M986.7 1090.9l9.6 9.6M986.7 1100.5l9.6 -9.6M989.9 1094.1h3.2v3.2h-3.2zM989.8 1097.7h17.6M998.6 1088.9v17.6M993.8 1092.9l9.6 9.6M993.8 1102.5l9.6 -9.6M997.0 1096.1h3.2v3.2h-3.2zM997.0 1099.8h17.6M1005.8 1091.0v17.6M1001.0 1095.0l9.6 9.6M1001.0 1104.6l9.6 -9.6M1004.2 1098.2h3.2v3.2h-3.2zM1004.2 1101.7h17.6M1013.0 1092.9v17.6M1008.2 1096.9l9.6 9.6M1008.2 1106.5l9.6 -9.6M1011.4 1100.1h3.2v3.2h-3.2zM1011.3 1103.4h17.6M1020.1 1094.6v17.6M1015.3 1098.6l9.6 9.6M1015.3 1108.2l9.6 -9.6M1018.5 1101.8h3.2v3.2h-3.2zM1018.5 1104.8h17.6M1027.3 1096.0v17.6M1022.5 1100.0l9.6 9.6M1022.5 1109.6l9.6 -9.6M1025.7 1103.2h3.2v3.2h-3.2zM1025.7 1102.2h17.6M1034.5 1093.4v17.6M1029.7 1097.4l9.6 9.6M1029.7 1107.0l9.6 -9.6M1032.9 1100.6h3.2v3.2h-3.2z" fill="none" stroke="#000" stroke-width="2.1"/><path d="M667.8 1233.5a7.6 7.6 0 1 0 15.2 0a7.6 7.6 0 1 0 -15.2 0M675.8 1225.4a7.6 7.6 0 1 0 15.2 0a7.6 7.6 0 1 0 -15.2 0M683.6 1217.2a7.6 7.6 0 1 0 15.2 0a7.6 7.6 0 1 0 -15.2 0M691.4 1209.4a7.6 7.6 0 1 0 15.2 0a7.6 7.6 0 1 0 -15.2 0M699.2 1201.9a7.6 7.6 0 1 0 15.2 0a7.6 7.6 0 1 0 -15.2 0M706.9 1194.7a7.6 7.6 0 1 0 15.2 0a7.6 7.6 0 1 0 -15.2 0M714.5 1187.8a7.6 7.6 0 1 0 15.2 0a7.6 7.6 0 1 0 -15.2 0M722.1 1181.6a7.6 7.6 0 1 0 15.2 0a7.6 7.6 0 1 0 -15.2 0M729.7 1175.9a7.6 7.6 0 1 0 15.2 0a7.6 7.6 0 1 0 -15.2 0M737.2 1170.7a7.6 7.6 0 1 0 15.2 0a7.6 7.6 0 1 0 -15.2 0M744.6 1166.1a7.6 7.6 0 1 0 15.2 0a7.6 7.6 0 1 0 -15.2 0M752.1 1162.0a7.6 7.6 0 1 0 15.2 0a7.6 7.6 0 1 0 -15.2 0M759.5 1158.4a7.6 7.6 0 1 0 15.2 0a7.6 7.6 0 1 0 -15.2 0M766.9 1155.5a7.6 7.6 0 1 0 15.2 0a7.6 7.6 0 1 0 -15.2 0M774.3 1153.2a7.6 7.6 0 1 0 15.2 0a7.6 7.6 0 1 0 -15.2 0M781.6 1151.1a7.6 7.6 0 1 0 15.2 0a7.6 7.6 0 1 0 -15.2 0M789.0 1148.7a7.6 7.6 0 1 0 15.2 0a7.6 7.6 0 1 0 -15.2 0M796.3 1145.9a7.6 7.6 0 1 0 15.2 0a7.6 7.6 0 1 0 -15.2 0M803.6 1142.9a7.6 7.6 0 1 0 15.2 0a7.6 7.6 0 1 0 -15.2 0M810.9 1139.8a7.6 7.6 0 1 0 15.2 0a7.6 7.6 0 1 0 -15.2 0M818.1 1136.6a7.6 7.6 0 1 0 15.2 0a7.6 7.6 0 1 0 -15.2 0M825.4 1133.2a7.6 7.6 0 1 0 15.2 0a7.6 7.6 0 1 0 -15.2 0M832.7 1129.9a7.6 7.6 0 1 0 15.2 0a7.6 7.6 0 1 0 -15.2 0M839.9 1126.5a7.6 7.6 0 1 0 15.2 0a7.6 7.6 0 1 0 -15.2 0M847.2 1123.1a7.6 7.6 0 1 0 15.2 0a7.6 7.6 0 1 0 -15.2 0M854.4 1119.5a7.6 7.6 0 1 0 15.2 0a7.6 7.6 0 1 0 -15.2 0M861.6 1115.7a7.6 7.6 0 1 0 15.2 0a7.6 7.6 0 1 0 -15.2 0M868.8 1111.7a7.6 7.6 0 1 0 15.2 0a7.6 7.6 0 1 0 -15.2 0M876.1 1107.4a7.6 7.6 0 1 0 15.2 0a7.6 7.6 0 1 0 -15.2 0M883.3 1102.4a7.6 7.6 0 1 0 15.2 0a7.6 7.6 0 1 0 -15.2 0M890.5 1097.1a7.6 7.6 0 1 0 15.2 0a7.6 7.6 0 1 0 -15.2 0M897.7 1092.2a7.6 7.6 0 1 0 15.2 0a7.6 7.6 0 1 0 -15.2 0M904.9 1086.9a7.6 7.6 0 1 0 15.2 0a7.6 7.6 0 1 0 -15.2 0M912.1 1082.0a7.6 7.6 0 1 0 15.2 0a7.6 7.6 0 1 0 -15.2 0M919.2 1080.0a7.6 7.6 0 1 0 15.2 0a7.6 7.6 0 1 0 -15.2 0M926.4 1080.7a7.6 7.6 0 1 0 15.2 0a7.6 7.6 0 1 0 -15.2 0M933.6 1082.2a7.6 7.6 0 1 0 15.2 0a7.6 7.6 0 1 0 -15.2 0M940.8 1083.9a7.6 7.6 0 1 0 15.2 0a7.6 7.6 0 1 0 -15.2 0M948.0 1085.7a7.6 7.6 0 1 0 15.2 0a7.6 7.6 0 1 0 -15.2 0M955.2 1087.7a7.6 7.6 0 1 0 15.2 0a7.6 7.6 0 1 0 -15.2 0M962.3 1089.8a7.6 7.6 0 1 0 15.2 0a7.6 7.6 0 1 0 -15.2 0M969.5 1091.8a7.6 7.6 0 1 0 15.2 0a7.6 7.6 0 1 0 -15.2 0M976.7 1093.7a7.6 7.6 0 1 0 15.2 0a7.6 7.6 0 1 0 -15.2 0M983.9 1095.7a7.6 7.6 0 1 0 15.2 0a7.6 7.6 0 1 0 -15.2 0M991.0 1097.7a7.6 7.6 0 1 0 15.2 0a7.6 7.6 0 1 0 -15.2 0M998.2 1099.7a7.6 7.6 0 1 0 15.2 0a7.6 7.6 0 1 0 -15.2 0M1005.4 1101.6a7.6 7.6 0 1 0 15.2 0a7.6 7.6 0 1 0 -15.2 0M1012.5 1103.8a7.6 7.6 0 1 0 15.2 0a7.6 7.6 0 1 0 -15.2 0M1019.7 1105.8a7.6 7.6 0 1 0 15.2 0a7.6 7.6 0 1 0 -15.2 0M1026.9 1103.5a7.6 7.6 0 1 0 15.2 0a7.6 7.6 0 1 0 -15.2 0" fill="none" stroke="#000" stroke-width="2.1"/><path d="M579.1 1365.7h17.6M587.9 1356.9v17.6M583.1 1360.9l9.6 9.6M583.1 1370.5l9.6 -9.6M586.3 1364.1h3.2v3.2h-3.2zM588.9 1352.6h17.6M597.7 1343.8v17.6M592.9 1347.8l9.6 9.6M592.9 1357.4l9.6 -9.6M596.1 1351.0h3.2v3.2h-3.2zM598.3 1339.0h17.6M607.1 1330.2v17.6M602.3 1334.2l9.6 9.6M602.3 1343.8l9.6 -9.6M605.5 1337.4h3.2v3.2h-3.2zM607.5 1327.0h17.6M616.3 1318.2v17.6M611.5 1322.2l9.6 9.6M611.5 1331.8l9.6 -9.6M614.7 1325.4h3.2v3.2h-3.2zM616.4 1312.6h17.6M625.2 1303.8v17.6M620.4 1307.8l9.6 9.6M620.4 1317.4l9.6 -9.6M623.6 1311.0h3.2v3.2h-3.2zM625.1 1298.7h17.6M633.9 1289.9v17.6M629.1 1293.9l9.6 9.6M629.1 1303.5l9.6 -9.6M632.3 1297.1h3.2v3.2h-3.2zM633.7 1289.2h17.6M642.5 1280.4v17.6M637.7 1284.4l9.6 9.6M637.7 1294.0l9.6 -9.6M640.9 1287.6h3.2v3.2h-3.2zM642.1 1283.5h17.6M650.9 1274.7v17.6M646.1 1278.7l9.6 9.6M646.1 1288.3l9.6 -9.6M649.3 1281.9h3.2v3.2h-3.2zM650.4 1278.2h17.6M659.2 1269.4v17.6M654.4 1273.4l9.6 9.6M654.4 1283.0l9.6 -9.6M657.6 1276.6h3.2v3.2h-3.2zM658.5 1270.9h17.6M667.3 1262.1v17.6M662.5 1266.1l9.6 9.6M662.5 1275.7l9.6 -9.6M665.7 1269.3h3.2v3.2h-3.2zM1034.5 1096.0h17.6M1043.3 1087.2v17.6M1038.5 1091.2l9.6 9.6M1038.5 1100.8l9.6 -9.6M1041.7 1094.4h3.2v3.2h-3.2z" fill="none" stroke="#000" stroke-width="1.9"/><path d="M580.3 1397.7a7.6 7.6 0 1 0 15.2 0a7.6 7.6 0 1 0 -15.2 0M590.1 1375.7a7.6 7.6 0 1 0 15.2 0a7.6 7.6 0 1 0 -15.2 0M599.5 1356.4a7.6 7.6 0 1 0 15.2 0a7.6 7.6 0 1 0 -15.2 0M608.7 1341.1a7.6 7.6 0 1 0 15.2 0a7.6 7.6 0 1 0 -15.2 0M617.6 1318.5a7.6 7.6 0 1 0 15.2 0a7.6 7.6 0 1 0 -15.2 0M626.3 1296.4a7.6 7.6 0 1 0 15.2 0a7.6 7.6 0 1 0 -15.2 0M634.9 1282.0a7.6 7.6 0 1 0 15.2 0a7.6 7.6 0 1 0 -15.2 0M643.3 1267.0a7.6 7.6 0 1 0 15.2 0a7.6 7.6 0 1 0 -15.2 0M651.6 1252.9a7.6 7.6 0 1 0 15.2 0a7.6 7.6 0 1 0 -15.2 0M659.7 1242.2a7.6 7.6 0 1 0 15.2 0a7.6 7.6 0 1 0 -15.2 0M1035.7 1100.4a7.6 7.6 0 1 0 15.2 0a7.6 7.6 0 1 0 -15.2 0" fill="none" stroke="#000" stroke-width="1.9"/><path d="M523.0 1437.6h17.6M531.8 1428.8v17.6M527.0 1432.8l9.6 9.6M527.0 1442.4l9.6 -9.6M530.2 1436.0h3.2v3.2h-3.2zM535.6 1421.3h17.6M544.4 1412.5v17.6M539.6 1416.5l9.6 9.6M539.6 1426.1l9.6 -9.6M542.8 1419.7h3.2v3.2h-3.2zM547.4 1407.6h17.6M556.2 1398.8v17.6M551.4 1402.8l9.6 9.6M551.4 1412.4l9.6 -9.6M554.6 1406.0h3.2v3.2h-3.2zM558.4 1392.5h17.6M567.2 1383.7v17.6M562.4 1387.7l9.6 9.6M562.4 1397.3l9.6 -9.6M565.6 1390.9h3.2v3.2h-3.2zM569.0 1376.8h17.6M577.8 1368.0v17.6M573.0 1372.0l9.6 9.6M573.0 1381.6l9.6 -9.6M576.2 1375.2h3.2v3.2h-3.2z" fill="none" stroke="#000" stroke-width="1.7"/><path d="M524.2 1471.4a7.6 7.6 0 1 0 15.2 0a7.6 7.6 0 1 0 -15.2 0M536.8 1460.5a7.6 7.6 0 1 0 15.2 0a7.6 7.6 0 1 0 -15.2 0M548.6 1447.9a7.6 7.6 0 1 0 15.2 0a7.6 7.6 0 1 0 -15.2 0M559.6 1431.1a7.6 7.6 0 1 0 15.2 0a7.6 7.6 0 1 0 -15.2 0M570.2 1416.4a7.6 7.6 0 1 0 15.2 0a7.6 7.6 0 1 0 -15.2 0" fill="none" stroke="#000" stroke-width="1.7"/><path d="M355.8 1517.3h17.6M364.6 1508.5v17.6M359.8 1512.5l9.6 9.6M359.8 1522.1l9.6 -9.6M363.0 1515.7h3.2v3.2h-3.2zM403.3 1508.8h17.6M412.1 1500.0v17.6M407.3 1504.0l9.6 9.6M407.3 1513.6l9.6 -9.6M410.5 1507.2h3.2v3.2h-3.2zM434.3 1499.5h17.6M443.1 1490.7v17.6M438.3 1494.7l9.6 9.6M438.3 1504.3l9.6 -9.6M441.5 1497.9h3.2v3.2h-3.2zM458.1 1490.0h17.6M466.9 1481.2v17.6M462.1 1485.2l9.6 9.6M462.1 1494.8l9.6 -9.6M465.3 1488.4h3.2v3.2h-3.2zM477.6 1477.0h17.6M486.4 1468.2v17.6M481.6 1472.2l9.6 9.6M481.6 1481.8l9.6 -9.6M484.8 1475.4h3.2v3.2h-3.2zM494.5 1465.8h17.6M503.3 1457.0v17.6M498.5 1461.0l9.6 9.6M498.5 1470.6l9.6 -9.6M501.7 1464.2h3.2v3.2h-3.2zM509.4 1451.5h17.6M518.2 1442.7v17.6M513.4 1446.7l9.6 9.6M513.4 1456.3l9.6 -9.6M516.6 1449.9h3.2v3.2h-3.2z" fill="none" stroke="#000" stroke-width="1.5"/><path d="M357.0 1522.6a7.6 7.6 0 1 0 15.2 0a7.6 7.6 0 1 0 -15.2 0M404.5 1518.9a7.6 7.6 0 1 0 15.2 0a7.6 7.6 0 1 0 -15.2 0M435.5 1513.1a7.6 7.6 0 1 0 15.2 0a7.6 7.6 0 1 0 -15.2 0M459.3 1506.5a7.6 7.6 0 1 0 15.2 0a7.6 7.6 0 1 0 -15.2 0M478.8 1499.4a7.6 7.6 0 1 0 15.2 0a7.6 7.6 0 1 0 -15.2 0M495.7 1490.0a7.6 7.6 0 1 0 15.2 0a7.6 7.6 0 1 0 -15.2 0M510.6 1480.6a7.6 7.6 0 1 0 15.2 0a7.6 7.6 0 1 0 -15.2 0" fill="none" stroke="#000" stroke-width="1.5"/><rect x="262.7" y="946.5" width="853.2" height="585.7" fill="none" stroke="#000" stroke-width="1.8"/><path d="M314.1 1532.2v-4.6M314.1 946.5v4.6M344.1 1532.2v-4.6M344.1 946.5v4.6M365.4 1532.2v-4.6M365.4 946.5v4.6M382.0 1532.2v-4.6M382.0 946.5v4.6M395.5 1532.2v-4.6M395.5 946.5v4.6M406.9 1532.2v-4.6M406.9 946.5v4.6M416.8 1532.2v-4.6M416.8 946.5v4.6M425.5 1532.2v-4.6M425.5 946.5v4.6M433.3 1532.2v-9.0M433.3 946.5v9.0M484.7 1532.2v-4.6M484.7 946.5v4.6M514.8 1532.2v-4.6M514.8 946.5v4.6M536.1 1532.2v-4.6M536.1 946.5v4.6M552.6 1532.2v-4.6M552.6 946.5v4.6M566.1 1532.2v-4.6M566.1 946.5v4.6M577.5 1532.2v-4.6M577.5 946.5v4.6M587.4 1532.2v-4.6M587.4 946.5v4.6M596.2 1532.2v-4.6M596.2 946.5v4.6M604.0 1532.2v-9.0M604.0 946.5v9.0M655.3 1532.2v-4.6M655.3 946.5v4.6M685.4 1532.2v-4.6M685.4 946.5v4.6M706.7 1532.2v-4.6M706.7 946.5v4.6M723.3 1532.2v-4.6M723.3 946.5v4.6M736.8 1532.2v-4.6M736.8 946.5v4.6M748.2 1532.2v-4.6M748.2 946.5v4.6M758.1 1532.2v-4.6M758.1 946.5v4.6M766.8 1532.2v-4.6M766.8 946.5v4.6M774.6 1532.2v-9.0M774.6 946.5v9.0M826.0 1532.2v-4.6M826.0 946.5v4.6M856.0 1532.2v-4.6M856.0 946.5v4.6M877.4 1532.2v-4.6M877.4 946.5v4.6M893.9 1532.2v-4.6M893.9 946.5v4.6M907.4 1532.2v-4.6M907.4 946.5v4.6M918.8 1532.2v-4.6M918.8 946.5v4.6M928.7 1532.2v-4.6M928.7 946.5v4.6M937.5 1532.2v-4.6M937.5 946.5v4.6M945.3 1532.2v-9.0M945.3 946.5v9.0M996.6 1532.2v-4.6M996.6 946.5v4.6M1026.7 1532.2v-4.6M1026.7 946.5v4.6M1048.0 1532.2v-4.6M1048.0 946.5v4.6M1064.5 1532.2v-4.6M1064.5 946.5v4.6M1078.0 1532.2v-4.6M1078.0 946.5v4.6M1089.5 1532.2v-4.6M1089.5 946.5v4.6M1099.4 1532.2v-4.6M1099.4 946.5v4.6M1108.1 1532.2v-4.6M1108.1 946.5v4.6M262.7 1337.0h8.5M1115.9 1337.0h-8.5M262.7 1141.7h8.5M1115.9 1141.7h-8.5" stroke="#000" stroke-width="1.8" fill="none"/></g>
<g id="panel-d"><path d="M1523.2 1523.8 L1525.6 1523.7 L1528.1 1523.5 L1530.5 1523.4 L1532.9 1523.2 L1535.4 1523.1 L1537.8 1523.0 L1540.2 1522.8 L1542.6 1522.7 L1545.1 1522.6 L1547.5 1522.4 L1549.9 1522.3 L1552.4 1522.1 L1554.8 1522.0 L1557.2 1521.9 L1559.7 1521.7 L1562.1 1521.6 L1564.5 1521.5 L1567.0 1521.3 L1569.4 1521.2 L1571.8 1521.1 L1574.2 1521.0 L1576.7 1520.8 L1579.1 1520.7 L1581.5 1520.6 L1584.0 1520.5 L1586.4 1520.4 L1588.8 1520.3 L1591.3 1520.2 L1593.7 1520.0 L1596.1 1519.9 L1598.6 1519.8 L1601.0 1519.7 L1603.4 1519.5 L1605.8 1519.4 L1608.3 1519.2 L1610.7 1519.1 L1613.1 1518.9 L1615.6 1518.7 L1618.0 1518.5 L1620.4 1518.3 L1622.9 1518.0 L1625.3 1517.8 L1627.7 1517.5 L1630.2 1517.1 L1632.6 1516.8 L1635.0 1516.4 L1637.4 1516.1 L1639.9 1515.7 L1642.3 1515.2 L1644.7 1514.8 L1647.2 1514.3 L1649.6 1513.9 L1652.0 1513.4 L1654.5 1512.9 L1656.9 1512.3 L1659.3 1511.6 L1661.8 1510.9 L1664.2 1510.2 L1666.6 1509.4 L1669.0 1508.7 L1671.5 1507.9 L1673.9 1507.1 L1676.3 1506.4 L1678.8 1505.6 L1681.2 1504.9 L1683.6 1504.1 L1686.1 1503.3 L1688.5 1502.4 L1690.9 1501.6 L1693.4 1500.8 L1695.8 1500.1 L1698.2 1499.3 L1700.6 1498.6 L1703.1 1497.9 L1705.5 1497.2 L1707.9 1496.5 L1710.4 1495.7 L1712.8 1494.9 L1715.2 1494.0 L1717.7 1492.9 L1720.1 1491.9 L1722.5 1490.7 L1725.0 1489.5 L1727.4 1488.2 L1729.8 1487.0 L1732.2 1485.6 L1734.7 1484.3 L1737.1 1483.0 L1739.5 1481.7 L1742.0 1480.5 L1744.4 1479.3 L1746.8 1478.1 L1749.3 1476.9 L1751.7 1475.8 L1754.1 1474.7 L1756.6 1473.5 L1759.0 1472.4 L1761.4 1471.1 L1763.8 1469.8 L1766.3 1468.4 L1768.7 1466.9 L1771.1 1465.2 L1773.6 1463.3 L1776.0 1461.4 L1778.4 1459.3 L1780.9 1457.2 L1783.3 1455.2 L1785.7 1453.1 L1788.2 1451.2 L1790.6 1449.4 L1793.0 1447.6 L1795.4 1445.8 L1797.9 1444.1 L1800.3 1442.3 L1802.7 1440.6 L1805.2 1439.0 L1807.6 1437.4 L1810.0 1435.9 L1812.5 1434.5 L1814.9 1433.2 L1817.3 1432.0 L1819.8 1430.8 L1822.2 1429.7 L1824.6 1428.6 L1827.0 1427.6 L1829.5 1426.6 L1831.9 1425.6 L1834.3 1424.6 L1836.8 1423.7 L1839.2 1422.8 L1841.6 1421.8 L1844.1 1420.9 L1846.5 1420.0 L1848.9 1419.0 L1851.4 1418.1 L1853.8 1417.1 L1856.2 1416.2 L1858.6 1415.3 L1861.1 1414.4 L1863.5 1413.5 L1865.9 1412.6 L1868.4 1411.8 L1870.8 1410.9 L1873.2 1410.0 L1875.7 1409.1 L1878.1 1408.2 L1880.5 1407.3 L1883.0 1406.4 L1885.4 1405.4 L1887.8 1404.5 L1890.2 1403.5 L1892.7 1402.5 L1895.1 1401.5 L1897.5 1400.5 L1900.0 1399.4 L1902.4 1398.4 L1904.8 1397.4 L1907.3 1396.3 L1909.7 1395.2 L1912.1 1394.1 L1914.6 1393.0 L1917.0 1391.9 L1919.4 1390.8 L1921.8 1389.6 L1924.3 1388.4 L1926.7 1387.2 L1929.1 1386.0 L1931.6 1384.8 L1934.0 1383.6 L1936.4 1382.4 L1938.9 1381.2 L1941.3 1379.9 L1943.7 1378.7 L1946.2 1377.4 L1948.6 1376.1 L1951.0 1374.7 L1953.4 1373.3 L1955.9 1371.9 L1958.3 1370.4 L1960.7 1368.8 L1963.2 1367.2 L1965.6 1365.5 L1968.0 1363.8 L1970.5 1361.9 L1972.9 1359.8 L1975.3 1357.6 L1977.8 1355.3 L1980.2 1352.8 L1982.6 1350.2 L1985.0 1347.4 L1987.5 1344.5 L1989.9 1341.4 L1992.3 1337.9 L1994.8 1334.2 L1997.2 1330.3 L1999.6 1326.2 L2002.1 1322.1 L2004.5 1318.1 L2006.9 1313.9 L2009.4 1309.7 L2011.8 1305.3 L2014.2 1301.0 L2016.6 1296.7 L2019.1 1292.5 L2021.5 1288.5 L2023.9 1284.5 L2026.4 1280.5 L2028.8 1276.6 L2031.2 1272.9 L2033.7 1269.3 L2036.1 1265.9 L2038.5 1262.8 L2041.0 1259.7 L2043.4 1256.8 L2045.8 1254.0 L2048.2 1251.2 L2050.7 1248.5 L2053.1 1245.8 L2055.5 1243.2 L2058.0 1240.5 L2060.4 1237.9 L2062.8 1235.1 L2065.3 1232.4 L2067.7 1229.5 L2070.1 1226.6 L2072.6 1223.7 L2075.0 1220.8 L2077.4 1217.9 L2079.8 1214.9 L2082.3 1212.0 L2084.7 1209.0 L2087.1 1206.0 L2089.6 1203.1 L2092.0 1200.1 L2094.4 1197.0 L2096.9 1194.0 L2099.3 1191.0 L2101.7 1187.9 L2104.2 1184.8 L2106.6 1181.6 L2109.0 1178.4 L2111.4 1175.1 L2113.9 1171.9 L2116.3 1168.7 L2118.7 1165.5 L2121.2 1162.4 L2123.6 1159.3 L2126.0 1156.3 L2128.5 1153.4 L2130.9 1150.5 L2133.3 1147.6 L2135.8 1144.7 L2138.2 1141.8 L2140.6 1139.1 L2143.0 1136.7 L2145.5 1134.8 L2147.9 1133.3 L2150.3 1131.8 L2152.8 1130.5 L2155.2 1129.3 L2157.6 1128.4 L2160.1 1127.7 L2162.5 1127.3 L2164.9 1127.0 L2167.4 1126.8 L2169.8 1126.5 L2172.2 1126.3 L2174.6 1126.1 L2177.1 1125.9 L2179.5 1125.8 L2181.9 1125.6 L2184.4 1125.5 L2186.8 1125.4 L2189.2 1125.2 L2191.7 1125.1 L2194.1 1125.0 L2196.5 1125.0 L2199.0 1124.9 L2201.4 1124.8 L2203.8 1124.7 L2206.2 1124.7 L2208.7 1124.6 L2211.1 1124.6 L2213.5 1124.5 L2216.0 1124.4 L2218.4 1124.4 L2220.8 1124.3 L2223.3 1124.3 L2225.7 1124.2 L2228.1 1124.2 L2230.6 1124.2 L2233.0 1124.1 L2235.4 1124.1 L2237.8 1124.1 L2240.3 1124.0 L2242.7 1124.0 L2245.1 1124.0 L2247.6 1124.0 L2250.0 1124.0" fill="none" stroke="#000" stroke-width="1.7" stroke-linejoin="round"/><path d="M1768.7 1490.8h17.6M1777.5 1482.0v17.6M1772.7 1486.0l9.6 9.6M1772.7 1495.6l9.6 -9.6M1775.9 1489.2h3.2v3.2h-3.2zM1773.9 1488.4h17.6M1782.7 1479.6v17.6M1777.9 1483.6l9.6 9.6M1777.9 1493.2l9.6 -9.6M1781.1 1486.8h3.2v3.2h-3.2zM1779.1 1486.0h17.6M1787.9 1477.2v17.6M1783.1 1481.2l9.6 9.6M1783.1 1490.8l9.6 -9.6M1786.3 1484.4h3.2v3.2h-3.2zM1784.1 1483.6h17.6M1792.9 1474.8v17.6M1788.1 1478.8l9.6 9.6M1788.1 1488.4l9.6 -9.6M1791.3 1482.0h3.2v3.2h-3.2zM1789.1 1481.0h17.6M1797.9 1472.2v17.6M1793.1 1476.2l9.6 9.6M1793.1 1485.8l9.6 -9.6M1796.3 1479.4h3.2v3.2h-3.2zM1793.9 1478.2h17.6M1802.7 1469.4v17.6M1797.9 1473.4l9.6 9.6M1797.9 1483.0l9.6 -9.6M1801.1 1476.6h3.2v3.2h-3.2zM1798.7 1475.3h17.6M1807.5 1466.5v17.6M1802.7 1470.5l9.6 9.6M1802.7 1480.1l9.6 -9.6M1805.9 1473.7h3.2v3.2h-3.2zM1803.3 1472.4h17.6M1812.1 1463.6v17.6M1807.3 1467.6l9.6 9.6M1807.3 1477.2l9.6 -9.6M1810.5 1470.8h3.2v3.2h-3.2zM1808.0 1469.8h17.6M1816.8 1461.0v17.6M1812.0 1465.0l9.6 9.6M1812.0 1474.6l9.6 -9.6M1815.2 1468.2h3.2v3.2h-3.2zM1812.5 1467.8h17.6M1821.3 1459.0v17.6M1816.5 1463.0l9.6 9.6M1816.5 1472.6l9.6 -9.6M1819.7 1466.2h3.2v3.2h-3.2zM1817.0 1466.0h17.6M1825.8 1457.2v17.6M1821.0 1461.2l9.6 9.6M1821.0 1470.8l9.6 -9.6M1824.2 1464.4h3.2v3.2h-3.2zM1821.4 1464.1h17.6M1830.2 1455.3v17.6M1825.4 1459.3l9.6 9.6M1825.4 1468.9l9.6 -9.6M1828.6 1462.5h3.2v3.2h-3.2zM1825.8 1462.1h17.6M1834.6 1453.3v17.6M1829.8 1457.3l9.6 9.6M1829.8 1466.9l9.6 -9.6M1833.0 1460.5h3.2v3.2h-3.2zM1830.0 1460.3h17.6M1838.8 1451.5v17.6M1834.0 1455.5l9.6 9.6M1834.0 1465.1l9.6 -9.6M1837.2 1458.7h3.2v3.2h-3.2zM1834.3 1458.6h17.6M1843.1 1449.8v17.6M1838.3 1453.8l9.6 9.6M1838.3 1463.4l9.6 -9.6M1841.5 1457.0h3.2v3.2h-3.2zM1838.5 1456.9h17.6M1847.3 1448.1v17.6M1842.5 1452.1l9.6 9.6M1842.5 1461.7l9.6 -9.6M1845.7 1455.3h3.2v3.2h-3.2zM1842.7 1455.3h17.6M1851.5 1446.5v17.6M1846.7 1450.5l9.6 9.6M1846.7 1460.1l9.6 -9.6M1849.9 1453.7h3.2v3.2h-3.2zM1846.8 1453.7h17.6M1855.6 1444.9v17.6M1850.8 1448.9l9.6 9.6M1850.8 1458.5l9.6 -9.6M1854.0 1452.1h3.2v3.2h-3.2zM1850.9 1452.1h17.6M1859.7 1443.3v17.6M1854.9 1447.3l9.6 9.6M1854.9 1456.9l9.6 -9.6M1858.1 1450.5h3.2v3.2h-3.2zM1855.0 1450.7h17.6M1863.8 1441.9v17.6M1859.0 1445.9l9.6 9.6M1859.0 1455.5l9.6 -9.6M1862.2 1449.1h3.2v3.2h-3.2zM1859.0 1449.2h17.6M1867.8 1440.4v17.6M1863.0 1444.4l9.6 9.6M1863.0 1454.0l9.6 -9.6M1866.2 1447.6h3.2v3.2h-3.2zM1863.0 1447.8h17.6M1871.8 1439.0v17.6M1867.0 1443.0l9.6 9.6M1867.0 1452.6l9.6 -9.6M1870.2 1446.2h3.2v3.2h-3.2zM1867.0 1446.4h17.6M1875.8 1437.6v17.6M1871.0 1441.6l9.6 9.6M1871.0 1451.2l9.6 -9.6M1874.2 1444.8h3.2v3.2h-3.2zM1871.0 1445.0h17.6M1879.8 1436.2v17.6M1875.0 1440.2l9.6 9.6M1875.0 1449.8l9.6 -9.6M1878.2 1443.4h3.2v3.2h-3.2zM1874.9 1443.6h17.6M1883.7 1434.8v17.6M1878.9 1438.8l9.6 9.6M1878.9 1448.4l9.6 -9.6M1882.1 1442.0h3.2v3.2h-3.2zM1878.8 1442.2h17.6M1887.6 1433.4v17.6M1882.8 1437.4l9.6 9.6M1882.8 1447.0l9.6 -9.6M1886.0 1440.6h3.2v3.2h-3.2zM1882.7 1440.8h17.6M1891.5 1432.0v17.6M1886.7 1436.0l9.6 9.6M1886.7 1445.6l9.6 -9.6M1889.9 1439.2h3.2v3.2h-3.2zM1886.5 1439.3h17.6M1895.3 1430.5v17.6M1890.5 1434.5l9.6 9.6M1890.5 1444.1l9.6 -9.6M1893.7 1437.7h3.2v3.2h-3.2zM1890.4 1437.9h17.6M1899.2 1429.1v17.6M1894.4 1433.1l9.6 9.6M1894.4 1442.7l9.6 -9.6M1897.6 1436.3h3.2v3.2h-3.2zM1894.2 1436.5h17.6M1903.0 1427.7v17.6M1898.2 1431.7l9.6 9.6M1898.2 1441.3l9.6 -9.6M1901.4 1434.9h3.2v3.2h-3.2zM1898.0 1435.0h17.6M1906.8 1426.2v17.6M1902.0 1430.2l9.6 9.6M1902.0 1439.8l9.6 -9.6M1905.2 1433.4h3.2v3.2h-3.2zM1901.8 1433.5h17.6M1910.6 1424.7v17.6M1905.8 1428.7l9.6 9.6M1905.8 1438.3l9.6 -9.6M1909.0 1431.9h3.2v3.2h-3.2zM1905.6 1431.9h17.6M1914.4 1423.1v17.6M1909.6 1427.1l9.6 9.6M1909.6 1436.7l9.6 -9.6M1912.8 1430.3h3.2v3.2h-3.2zM1909.3 1430.3h17.6M1918.1 1421.5v17.6M1913.3 1425.5l9.6 9.6M1913.3 1435.1l9.6 -9.6M1916.5 1428.7h3.2v3.2h-3.2zM1913.1 1428.6h17.6M1921.9 1419.8v17.6M1917.1 1423.8l9.6 9.6M1917.1 1433.4l9.6 -9.6M1920.3 1427.0h3.2v3.2h-3.2zM1916.8 1427.0h17.6M1925.6 1418.2v17.6M1920.8 1422.2l9.6 9.6M1920.8 1431.8l9.6 -9.6M1924.0 1425.4h3.2v3.2h-3.2zM1920.5 1425.4h17.6M1929.3 1416.6v17.6M1924.5 1420.6l9.6 9.6M1924.5 1430.2l9.6 -9.6M1927.7 1423.8h3.2v3.2h-3.2zM1924.2 1423.7h17.6M1933.0 1414.9v17.6M1928.2 1418.9l9.6 9.6M1928.2 1428.5l9.6 -9.6M1931.4 1422.1h3.2v3.2h-3.2zM1927.9 1421.9h17.6M1936.7 1413.1v17.6M1931.9 1417.1l9.6 9.6M1931.9 1426.7l9.6 -9.6M1935.1 1420.3h3.2v3.2h-3.2zM1931.6 1419.9h17.6M1940.4 1411.1v17.6M1935.6 1415.1l9.6 9.6M1935.6 1424.7l9.6 -9.6M1938.8 1418.3h3.2v3.2h-3.2zM1935.3 1417.7h17.6M1944.1 1408.9v17.6M1939.3 1412.9l9.6 9.6M1939.3 1422.5l9.6 -9.6M1942.5 1416.1h3.2v3.2h-3.2zM1939.0 1415.3h17.6M1947.8 1406.5v17.6M1943.0 1410.5l9.6 9.6M1943.0 1420.1l9.6 -9.6M1946.2 1413.7h3.2v3.2h-3.2zM1942.6 1412.3h17.6M1951.4 1403.5v17.6M1946.6 1407.5l9.6 9.6M1946.6 1417.1l9.6 -9.6M1949.8 1410.7h3.2v3.2h-3.2zM1946.3 1408.8h17.6M1955.1 1400.0v17.6M1950.3 1404.0l9.6 9.6M1950.3 1413.6l9.6 -9.6M1953.5 1407.2h3.2v3.2h-3.2zM1949.9 1404.9h17.6M1958.7 1396.1v17.6M1953.9 1400.1l9.6 9.6M1953.9 1409.7l9.6 -9.6M1957.1 1403.3h3.2v3.2h-3.2zM1953.5 1400.6h17.6M1962.3 1391.8v17.6M1957.5 1395.8l9.6 9.6M1957.5 1405.4l9.6 -9.6M1960.7 1399.0h3.2v3.2h-3.2zM1957.2 1395.6h17.6M1966.0 1386.8v17.6M1961.2 1390.8l9.6 9.6M1961.2 1400.4l9.6 -9.6M1964.4 1394.0h3.2v3.2h-3.2zM1960.8 1390.1h17.6M1969.6 1381.3v17.6M1964.8 1385.3l9.6 9.6M1964.8 1394.9l9.6 -9.6M1968.0 1388.5h3.2v3.2h-3.2zM1964.4 1384.6h17.6M1973.2 1375.8v17.6M1968.4 1379.8l9.6 9.6M1968.4 1389.4l9.6 -9.6M1971.6 1383.0h3.2v3.2h-3.2zM1968.0 1379.4h17.6M1976.8 1370.6v17.6M1972.0 1374.6l9.6 9.6M1972.0 1384.2l9.6 -9.6M1975.2 1377.8h3.2v3.2h-3.2zM1971.6 1374.4h17.6M1980.4 1365.6v17.6M1975.6 1369.6l9.6 9.6M1975.6 1379.2l9.6 -9.6M1978.8 1372.8h3.2v3.2h-3.2zM1975.2 1369.5h17.6M1984.0 1360.7v17.6M1979.2 1364.7l9.6 9.6M1979.2 1374.3l9.6 -9.6M1982.4 1367.9h3.2v3.2h-3.2zM1978.8 1364.4h17.6M1987.6 1355.6v17.6M1982.8 1359.6l9.6 9.6M1982.8 1369.2l9.6 -9.6M1986.0 1362.8h3.2v3.2h-3.2zM1982.4 1359.2h17.6M1991.2 1350.4v17.6M1986.4 1354.4l9.6 9.6M1986.4 1364.0l9.6 -9.6M1989.6 1357.6h3.2v3.2h-3.2zM1985.9 1353.7h17.6M1994.7 1344.9v17.6M1989.9 1348.9l9.6 9.6M1989.9 1358.5l9.6 -9.6M1993.1 1352.1h3.2v3.2h-3.2zM1989.5 1347.7h17.6M1998.3 1338.9v17.6M1993.5 1342.9l9.6 9.6M1993.5 1352.5l9.6 -9.6M1996.7 1346.1h3.2v3.2h-3.2zM1993.1 1341.3h17.6M2001.9 1332.5v17.6M1997.1 1336.5l9.6 9.6M1997.1 1346.1l9.6 -9.6M2000.3 1339.7h3.2v3.2h-3.2zM1996.7 1334.5h17.6M2005.5 1325.7v17.6M2000.7 1329.7l9.6 9.6M2000.7 1339.3l9.6 -9.6M2003.9 1332.9h3.2v3.2h-3.2zM2000.2 1327.3h17.6M2009.0 1318.5v17.6M2004.2 1322.5l9.6 9.6M2004.2 1332.1l9.6 -9.6M2007.4 1325.7h3.2v3.2h-3.2zM2003.8 1319.2h17.6M2012.6 1310.4v17.6M2007.8 1314.4l9.6 9.6M2007.8 1324.0l9.6 -9.6M2011.0 1317.6h3.2v3.2h-3.2zM2007.3 1311.3h17.6M2016.1 1302.5v17.6M2011.3 1306.5l9.6 9.6M2011.3 1316.1l9.6 -9.6M2014.5 1309.7h3.2v3.2h-3.2zM2010.9 1304.3h17.6M2019.7 1295.5v17.6M2014.9 1299.5l9.6 9.6M2014.9 1309.1l9.6 -9.6M2018.1 1302.7h3.2v3.2h-3.2zM2014.4 1298.0h17.6M2023.2 1289.2v17.6M2018.4 1293.2l9.6 9.6M2018.4 1302.8l9.6 -9.6M2021.6 1296.4h3.2v3.2h-3.2zM2018.0 1292.2h17.6M2026.8 1283.4v17.6M2022.0 1287.4l9.6 9.6M2022.0 1297.0l9.6 -9.6M2025.2 1290.6h3.2v3.2h-3.2zM2021.5 1286.8h17.6M2030.3 1278.0v17.6M2025.5 1282.0l9.6 9.6M2025.5 1291.6l9.6 -9.6M2028.7 1285.2h3.2v3.2h-3.2zM2025.1 1281.9h17.6M2033.9 1273.1v17.6M2029.1 1277.1l9.6 9.6M2029.1 1286.7l9.6 -9.6M2032.3 1280.3h3.2v3.2h-3.2zM2028.6 1277.4h17.6M2037.4 1268.6v17.6M2032.6 1272.6l9.6 9.6M2032.6 1282.2l9.6 -9.6M2035.8 1275.8h3.2v3.2h-3.2zM2032.1 1272.8h17.6M2040.9 1264.0v17.6M2036.1 1268.0l9.6 9.6M2036.1 1277.6l9.6 -9.6M2039.3 1271.2h3.2v3.2h-3.2zM2035.7 1267.9h17.6M2044.5 1259.1v17.6M2039.7 1263.1l9.6 9.6M2039.7 1272.7l9.6 -9.6M2042.9 1266.3h3.2v3.2h-3.2zM2039.2 1262.8h17.6M2048.0 1254.0v17.6M2043.2 1258.0l9.6 9.6M2043.2 1267.6l9.6 -9.6M2046.4 1261.2h3.2v3.2h-3.2zM2042.7 1257.7h17.6M2051.5 1248.9v17.6M2046.7 1252.9l9.6 9.6M2046.7 1262.5l9.6 -9.6M2049.9 1256.1h3.2v3.2h-3.2zM2046.2 1252.8h17.6M2055.0 1244.0v17.6M2050.2 1248.0l9.6 9.6M2050.2 1257.6l9.6 -9.6M2053.4 1251.2h3.2v3.2h-3.2zM2049.8 1248.1h17.6M2058.6 1239.3v17.6M2053.8 1243.3l9.6 9.6M2053.8 1252.9l9.6 -9.6M2057.0 1246.5h3.2v3.2h-3.2zM2053.3 1243.5h17.6M2062.1 1234.7v17.6M2057.3 1238.7l9.6 9.6M2057.3 1248.3l9.6 -9.6M2060.5 1241.9h3.2v3.2h-3.2zM2056.8 1239.0h17.6M2065.6 1230.2v17.6M2060.8 1234.2l9.6 9.6M2060.8 1243.8l9.6 -9.6M2064.0 1237.4h3.2v3.2h-3.2zM2060.3 1234.8h17.6M2069.1 1226.0v17.6M2064.3 1230.0l9.6 9.6M2064.3 1239.6l9.6 -9.6M2067.5 1233.2h3.2v3.2h-3.2zM2063.8 1230.7h17.6M2072.6 1221.9v17.6M2067.8 1225.9l9.6 9.6M2067.8 1235.5l9.6 -9.6M2071.0 1229.1h3.2v3.2h-3.2zM2067.4 1226.6h17.6M2076.2 1217.8v17.6M2071.4 1221.8l9.6 9.6M2071.4 1231.4l9.6 -9.6M2074.6 1225.0h3.2v3.2h-3.2zM2070.9 1222.5h17.6M2079.7 1213.7v17.6M2074.9 1217.7l9.6 9.6M2074.9 1227.3l9.6 -9.6M2078.1 1220.9h3.2v3.2h-3.2zM2074.4 1218.3h17.6M2083.2 1209.5v17.6M2078.4 1213.5l9.6 9.6M2078.4 1223.1l9.6 -9.6M2081.6 1216.7h3.2v3.2h-3.2zM2077.9 1214.2h17.6M2086.7 1205.4v17.6M2081.9 1209.4l9.6 9.6M2081.9 1219.0l9.6 -9.6M2085.1 1212.6h3.2v3.2h-3.2zM2081.4 1210.1h17.6M2090.2 1201.3v17.6M2085.4 1205.3l9.6 9.6M2085.4 1214.9l9.6 -9.6M2088.6 1208.5h3.2v3.2h-3.2zM2084.9 1206.1h17.6M2093.7 1197.3v17.6M2088.9 1201.3l9.6 9.6M2088.9 1210.9l9.6 -9.6M2092.1 1204.5h3.2v3.2h-3.2zM2088.4 1202.1h17.6M2097.2 1193.3v17.6M2092.4 1197.3l9.6 9.6M2092.4 1206.9l9.6 -9.6M2095.6 1200.5h3.2v3.2h-3.2zM2091.9 1198.1h17.6M2100.7 1189.3v17.6M2095.9 1193.3l9.6 9.6M2095.9 1202.9l9.6 -9.6M2099.1 1196.5h3.2v3.2h-3.2zM2095.4 1193.9h17.6M2104.2 1185.1v17.6M2099.4 1189.1l9.6 9.6M2099.4 1198.7l9.6 -9.6M2102.6 1192.3h3.2v3.2h-3.2zM2098.9 1189.7h17.6M2107.7 1180.9v17.6M2102.9 1184.9l9.6 9.6M2102.9 1194.5l9.6 -9.6M2106.1 1188.1h3.2v3.2h-3.2zM2102.4 1185.2h17.6M2111.2 1176.4v17.6M2106.4 1180.4l9.6 9.6M2106.4 1190.0l9.6 -9.6M2109.6 1183.6h3.2v3.2h-3.2zM2105.9 1180.7h17.6M2114.7 1171.9v17.6M2109.9 1175.9l9.6 9.6M2109.9 1185.5l9.6 -9.6M2113.1 1179.1h3.2v3.2h-3.2zM2109.4 1176.1h17.6M2118.2 1167.3v17.6M2113.4 1171.3l9.6 9.6M2113.4 1180.9l9.6 -9.6M2116.6 1174.5h3.2v3.2h-3.2zM2112.9 1171.5h17.6M2121.7 1162.7v17.6M2116.9 1166.7l9.6 9.6M2116.9 1176.3l9.6 -9.6M2120.1 1169.9h3.2v3.2h-3.2zM2116.4 1167.1h17.6M2125.2 1158.3v17.6M2120.4 1162.3l9.6 9.6M2120.4 1171.9l9.6 -9.6M2123.6 1165.5h3.2v3.2h-3.2zM2119.9 1162.5h17.6M2128.7 1153.7v17.6M2123.9 1157.7l9.6 9.6M2123.9 1167.3l9.6 -9.6M2127.1 1160.9h3.2v3.2h-3.2zM2123.4 1157.9h17.6M2132.2 1149.1v17.6M2127.4 1153.1l9.6 9.6M2127.4 1162.7l9.6 -9.6M2130.6 1156.3h3.2v3.2h-3.2zM2126.9 1153.6h17.6M2135.7 1144.8v17.6M2130.9 1148.8l9.6 9.6M2130.9 1158.4l9.6 -9.6M2134.1 1152.0h3.2v3.2h-3.2zM2130.4 1149.5h17.6M2139.2 1140.7v17.6M2134.4 1144.7l9.6 9.6M2134.4 1154.3l9.6 -9.6M2137.6 1147.9h3.2v3.2h-3.2zM2133.9 1145.8h17.6M2142.7 1137.0v17.6M2137.9 1141.0l9.6 9.6M2137.9 1150.6l9.6 -9.6M2141.1 1144.2h3.2v3.2h-3.2zM2137.4 1142.2h17.6M2146.2 1133.4v17.6M2141.4 1137.4l9.6 9.6M2141.4 1147.0l9.6 -9.6M2144.6 1140.6h3.2v3.2h-3.2zM2140.9 1138.8h17.6M2149.7 1130.0v17.6M2144.9 1134.0l9.6 9.6M2144.9 1143.6l9.6 -9.6M2148.1 1137.2h3.2v3.2h-3.2zM2144.4 1135.7h17.6M2153.2 1126.9v17.6M2148.4 1130.9l9.6 9.6M2148.4 1140.5l9.6 -9.6M2151.6 1134.1h3.2v3.2h-3.2zM2147.9 1133.0h17.6M2156.7 1124.2v17.6M2151.9 1128.2l9.6 9.6M2151.9 1137.8l9.6 -9.6M2155.1 1131.4h3.2v3.2h-3.2zM2151.4 1130.3h17.6M2160.2 1121.5v17.6M2155.4 1125.5l9.6 9.6M2155.4 1135.1l9.6 -9.6M2158.6 1128.7h3.2v3.2h-3.2zM2154.9 1127.7h17.6M2163.7 1118.9v17.6M2158.9 1122.9l9.6 9.6M2158.9 1132.5l9.6 -9.6M2162.1 1126.1h3.2v3.2h-3.2zM2158.4 1125.6h17.6M2167.2 1116.8v17.6M2162.4 1120.8l9.6 9.6M2162.4 1130.4l9.6 -9.6M2165.6 1124.0h3.2v3.2h-3.2zM2161.9 1124.0h17.6M2170.7 1115.2v17.6M2165.9 1119.2l9.6 9.6M2165.9 1128.8l9.6 -9.6M2169.1 1122.4h3.2v3.2h-3.2zM2165.4 1123.2h17.6M2174.2 1114.4v17.6M2169.4 1118.4l9.6 9.6M2169.4 1128.0l9.6 -9.6M2172.6 1121.6h3.2v3.2h-3.2zM2168.9 1122.8h17.6M2177.7 1114.0v17.6M2172.9 1118.0l9.6 9.6M2172.9 1127.6l9.6 -9.6M2176.1 1121.2h3.2v3.2h-3.2zM2172.3 1122.4h17.6M2181.1 1113.6v17.6M2176.3 1117.6l9.6 9.6M2176.3 1127.2l9.6 -9.6M2179.5 1120.8h3.2v3.2h-3.2zM2175.8 1122.1h17.6M2184.6 1113.3v17.6M2179.8 1117.3l9.6 9.6M2179.8 1126.9l9.6 -9.6M2183.0 1120.5h3.2v3.2h-3.2zM2179.3 1121.9h17.6M2188.1 1113.1v17.6M2183.3 1117.1l9.6 9.6M2183.3 1126.7l9.6 -9.6M2186.5 1120.3h3.2v3.2h-3.2zM2182.8 1121.6h17.6M2191.6 1112.8v17.6M2186.8 1116.8l9.6 9.6M2186.8 1126.4l9.6 -9.6M2190.0 1120.0h3.2v3.2h-3.2zM2186.3 1121.5h17.6M2195.1 1112.7v17.6M2190.3 1116.7l9.6 9.6M2190.3 1126.3l9.6 -9.6M2193.5 1119.9h3.2v3.2h-3.2zM2189.8 1121.3h17.6M2198.6 1112.5v17.6M2193.8 1116.5l9.6 9.6M2193.8 1126.1l9.6 -9.6M2197.0 1119.7h3.2v3.2h-3.2zM2193.3 1121.1h17.6M2202.1 1112.3v17.6M2197.3 1116.3l9.6 9.6M2197.3 1125.9l9.6 -9.6M2200.5 1119.5h3.2v3.2h-3.2zM2196.8 1121.0h17.6M2205.6 1112.2v17.6M2200.8 1116.2l9.6 9.6M2200.8 1125.8l9.6 -9.6M2204.0 1119.4h3.2v3.2h-3.2zM2200.3 1120.9h17.6M2209.1 1112.1v17.6M2204.3 1116.1l9.6 9.6M2204.3 1125.7l9.6 -9.6M2207.5 1119.3h3.2v3.2h-3.2zM2203.7 1120.8h17.6M2212.5 1112.0v17.6M2207.7 1116.0l9.6 9.6M2207.7 1125.6l9.6 -9.6M2210.9 1119.2h3.2v3.2h-3.2zM2207.2 1120.7h17.6M2216.0 1111.9v17.6M2211.2 1115.9l9.6 9.6M2211.2 1125.5l9.6 -9.6M2214.4 1119.1h3.2v3.2h-3.2zM2210.7 1120.7h17.6M2219.5 1111.9v17.6M2214.7 1115.9l9.6 9.6M2214.7 1125.5l9.6 -9.6M2217.9 1119.1h3.2v3.2h-3.2zM2214.2 1120.6h17.6M2223.0 1111.8v17.6M2218.2 1115.8l9.6 9.6M2218.2 1125.4l9.6 -9.6M2221.4 1119.0h3.2v3.2h-3.2zM2217.7 1120.5h17.6M2226.5 1111.7v17.6M2221.7 1115.7l9.6 9.6M2221.7 1125.3l9.6 -9.6M2224.9 1118.9h3.2v3.2h-3.2zM2221.2 1120.4h17.6M2230.0 1111.6v17.6M2225.2 1115.6l9.6 9.6M2225.2 1125.2l9.6 -9.6M2228.4 1118.8h3.2v3.2h-3.2zM2224.7 1120.4h17.6M2233.5 1111.6v17.6M2228.7 1115.6l9.6 9.6M2228.7 1125.2l9.6 -9.6M2231.9 1118.8h3.2v3.2h-3.2zM2228.2 1120.3h17.6M2237.0 1111.5v17.6M2232.2 1115.5l9.6 9.6M2232.2 1125.1l9.6 -9.6M2235.4 1118.7h3.2v3.2h-3.2zM2231.6 1120.1h17.6M2240.4 1111.3v17.6M2235.6 1115.3l9.6 9.6M2235.6 1124.9l9.6 -9.6M2238.8 1118.5h3.2v3.2h-3.2zM2235.1 1120.0h17.6M2243.9 1111.2v17.6M2239.1 1115.2l9.6 9.6M2239.1 1124.8l9.6 -9.6M2242.3 1118.4h3.2v3.2h-3.2zM2238.6 1119.8h17.6M2247.4 1111.0v17.6M2242.6 1115.0l9.6 9.6M2242.6 1124.6l9.6 -9.6M2245.8 1118.2h3.2v3.2h-3.2zM2243.3 1119.5h17.6M2252.1 1110.7v17.6M2247.3 1114.7l9.6 9.6M2247.3 1124.3l9.6 -9.6M2250.5 1117.9h3.2v3.2h-3.2zM2247.9 1119.2h17.6M2256.7 1110.4v17.6M2251.9 1114.4l9.6 9.6M2251.9 1124.0l9.6 -9.6M2255.1 1117.6h3.2v3.2h-3.2z" fill="none" stroke="#000" stroke-width="2.1"/><path d="M1769.9 1459.2a7.6 7.6 0 1 0 15.2 0a7.6 7.6 0 1 0 -15.2 0M1775.1 1454.7a7.6 7.6 0 1 0 15.2 0a7.6 7.6 0 1 0 -15.2 0M1780.3 1450.1a7.6 7.6 0 1 0 15.2 0a7.6 7.6 0 1 0 -15.2 0M1785.3 1446.4a7.6 7.6 0 1 0 15.2 0a7.6 7.6 0 1 0 -15.2 0M1790.3 1443.0a7.6 7.6 0 1 0 15.2 0a7.6 7.6 0 1 0 -15.2 0M1795.1 1439.5a7.6 7.6 0 1 0 15.2 0a7.6 7.6 0 1 0 -15.2 0M1799.9 1435.6a7.6 7.6 0 1 0 15.2 0a7.6 7.6 0 1 0 -15.2 0M1804.5 1432.0a7.6 7.6 0 1 0 15.2 0a7.6 7.6 0 1 0 -15.2 0M1809.2 1428.9a7.6 7.6 0 1 0 15.2 0a7.6 7.6 0 1 0 -15.2 0M1813.7 1426.3a7.6 7.6 0 1 0 15.2 0a7.6 7.6 0 1 0 -15.2 0M1818.2 1423.8a7.6 7.6 0 1 0 15.2 0a7.6 7.6 0 1 0 -15.2 0M1822.6 1421.6a7.6 7.6 0 1 0 15.2 0a7.6 7.6 0 1 0 -15.2 0M1827.0 1419.6a7.6 7.6 0 1 0 15.2 0a7.6 7.6 0 1 0 -15.2 0M1831.2 1417.7a7.6 7.6 0 1 0 15.2 0a7.6 7.6 0 1 0 -15.2 0M1835.5 1416.0a7.6 7.6 0 1 0 15.2 0a7.6 7.6 0 1 0 -15.2 0M1839.7 1414.3a7.6 7.6 0 1 0 15.2 0a7.6 7.6 0 1 0 -15.2 0M1843.9 1412.7a7.6 7.6 0 1 0 15.2 0a7.6 7.6 0 1 0 -15.2 0M1848.0 1411.1a7.6 7.6 0 1 0 15.2 0a7.6 7.6 0 1 0 -15.2 0M1852.1 1409.4a7.6 7.6 0 1 0 15.2 0a7.6 7.6 0 1 0 -15.2 0M1856.2 1407.8a7.6 7.6 0 1 0 15.2 0a7.6 7.6 0 1 0 -15.2 0M1860.2 1406.3a7.6 7.6 0 1 0 15.2 0a7.6 7.6 0 1 0 -15.2 0M1864.2 1404.7a7.6 7.6 0 1 0 15.2 0a7.6 7.6 0 1 0 -15.2 0M1868.2 1403.2a7.6 7.6 0 1 0 15.2 0a7.6 7.6 0 1 0 -15.2 0M1872.2 1401.7a7.6 7.6 0 1 0 15.2 0a7.6 7.6 0 1 0 -15.2 0M1876.1 1400.2a7.6 7.6 0 1 0 15.2 0a7.6 7.6 0 1 0 -15.2 0M1880.0 1398.7a7.6 7.6 0 1 0 15.2 0a7.6 7.6 0 1 0 -15.2 0M1883.9 1397.2a7.6 7.6 0 1 0 15.2 0a7.6 7.6 0 1 0 -15.2 0M1887.7 1395.8a7.6 7.6 0 1 0 15.2 0a7.6 7.6 0 1 0 -15.2 0M1891.6 1394.3a7.6 7.6 0 1 0 15.2 0a7.6 7.6 0 1 0 -15.2 0M1895.4 1392.8a7.6 7.6 0 1 0 15.2 0a7.6 7.6 0 1 0 -15.2 0M1899.2 1391.3a7.6 7.6 0 1 0 15.2 0a7.6 7.6 0 1 0 -15.2 0M1903.0 1389.8a7.6 7.6 0 1 0 15.2 0a7.6 7.6 0 1 0 -15.2 0M1906.8 1388.2a7.6 7.6 0 1 0 15.2 0a7.6 7.6 0 1 0 -15.2 0M1910.5 1386.6a7.6 7.6 0 1 0 15.2 0a7.6 7.6 0 1 0 -15.2 0M1914.3 1384.8a7.6 7.6 0 1 0 15.2 0a7.6 7.6 0 1 0 -15.2 0M1918.0 1383.0a7.6 7.6 0 1 0 15.2 0a7.6 7.6 0 1 0 -15.2 0M1921.7 1381.1a7.6 7.6 0 1 0 15.2 0a7.6 7.6 0 1 0 -15.2 0M1925.4 1379.1a7.6 7.6 0 1 0 15.2 0a7.6 7.6 0 1 0 -15.2 0M1929.1 1377.2a7.6 7.6 0 1 0 15.2 0a7.6 7.6 0 1 0 -15.2 0M1932.8 1375.2a7.6 7.6 0 1 0 15.2 0a7.6 7.6 0 1 0 -15.2 0M1936.5 1373.3a7.6 7.6 0 1 0 15.2 0a7.6 7.6 0 1 0 -15.2 0M1940.2 1371.4a7.6 7.6 0 1 0 15.2 0a7.6 7.6 0 1 0 -15.2 0M1943.8 1369.6a7.6 7.6 0 1 0 15.2 0a7.6 7.6 0 1 0 -15.2 0M1947.5 1368.0a7.6 7.6 0 1 0 15.2 0a7.6 7.6 0 1 0 -15.2 0M1951.1 1366.3a7.6 7.6 0 1 0 15.2 0a7.6 7.6 0 1 0 -15.2 0M1954.7 1364.5a7.6 7.6 0 1 0 15.2 0a7.6 7.6 0 1 0 -15.2 0M1958.4 1362.6a7.6 7.6 0 1 0 15.2 0a7.6 7.6 0 1 0 -15.2 0M1962.0 1360.6a7.6 7.6 0 1 0 15.2 0a7.6 7.6 0 1 0 -15.2 0M1965.6 1358.2a7.6 7.6 0 1 0 15.2 0a7.6 7.6 0 1 0 -15.2 0M1969.2 1355.2a7.6 7.6 0 1 0 15.2 0a7.6 7.6 0 1 0 -15.2 0M1972.8 1351.9a7.6 7.6 0 1 0 15.2 0a7.6 7.6 0 1 0 -15.2 0M1976.4 1348.4a7.6 7.6 0 1 0 15.2 0a7.6 7.6 0 1 0 -15.2 0M1980.0 1344.5a7.6 7.6 0 1 0 15.2 0a7.6 7.6 0 1 0 -15.2 0M1983.6 1340.3a7.6 7.6 0 1 0 15.2 0a7.6 7.6 0 1 0 -15.2 0M1987.1 1335.8a7.6 7.6 0 1 0 15.2 0a7.6 7.6 0 1 0 -15.2 0M1990.7 1331.3a7.6 7.6 0 1 0 15.2 0a7.6 7.6 0 1 0 -15.2 0M1994.3 1326.5a7.6 7.6 0 1 0 15.2 0a7.6 7.6 0 1 0 -15.2 0M1997.9 1321.6a7.6 7.6 0 1 0 15.2 0a7.6 7.6 0 1 0 -15.2 0M2001.4 1316.4a7.6 7.6 0 1 0 15.2 0a7.6 7.6 0 1 0 -15.2 0M2005.0 1310.9a7.6 7.6 0 1 0 15.2 0a7.6 7.6 0 1 0 -15.2 0M2008.5 1305.4a7.6 7.6 0 1 0 15.2 0a7.6 7.6 0 1 0 -15.2 0M2012.1 1300.1a7.6 7.6 0 1 0 15.2 0a7.6 7.6 0 1 0 -15.2 0M2015.6 1295.0a7.6 7.6 0 1 0 15.2 0a7.6 7.6 0 1 0 -15.2 0M2019.2 1290.0a7.6 7.6 0 1 0 15.2 0a7.6 7.6 0 1 0 -15.2 0M2022.7 1284.8a7.6 7.6 0 1 0 15.2 0a7.6 7.6 0 1 0 -15.2 0M2026.3 1279.5a7.6 7.6 0 1 0 15.2 0a7.6 7.6 0 1 0 -15.2 0M2029.8 1274.1a7.6 7.6 0 1 0 15.2 0a7.6 7.6 0 1 0 -15.2 0M2033.3 1268.7a7.6 7.6 0 1 0 15.2 0a7.6 7.6 0 1 0 -15.2 0M2036.9 1263.2a7.6 7.6 0 1 0 15.2 0a7.6 7.6 0 1 0 -15.2 0M2040.4 1257.6a7.6 7.6 0 1 0 15.2 0a7.6 7.6 0 1 0 -15.2 0M2043.9 1252.2a7.6 7.6 0 1 0 15.2 0a7.6 7.6 0 1 0 -15.2 0M2047.4 1247.0a7.6 7.6 0 1 0 15.2 0a7.6 7.6 0 1 0 -15.2 0M2051.0 1242.1a7.6 7.6 0 1 0 15.2 0a7.6 7.6 0 1 0 -15.2 0M2054.5 1237.4a7.6 7.6 0 1 0 15.2 0a7.6 7.6 0 1 0 -15.2 0M2058.0 1233.0a7.6 7.6 0 1 0 15.2 0a7.6 7.6 0 1 0 -15.2 0M2061.5 1229.2a7.6 7.6 0 1 0 15.2 0a7.6 7.6 0 1 0 -15.2 0M2065.0 1225.6a7.6 7.6 0 1 0 15.2 0a7.6 7.6 0 1 0 -15.2 0M2068.6 1222.0a7.6 7.6 0 1 0 15.2 0a7.6 7.6 0 1 0 -15.2 0M2072.1 1218.1a7.6 7.6 0 1 0 15.2 0a7.6 7.6 0 1 0 -15.2 0M2075.6 1214.1a7.6 7.6 0 1 0 15.2 0a7.6 7.6 0 1 0 -15.2 0M2079.1 1210.0a7.6 7.6 0 1 0 15.2 0a7.6 7.6 0 1 0 -15.2 0M2082.6 1205.7a7.6 7.6 0 1 0 15.2 0a7.6 7.6 0 1 0 -15.2 0M2086.1 1201.3a7.6 7.6 0 1 0 15.2 0a7.6 7.6 0 1 0 -15.2 0M2089.6 1196.7a7.6 7.6 0 1 0 15.2 0a7.6 7.6 0 1 0 -15.2 0M2093.1 1192.2a7.6 7.6 0 1 0 15.2 0a7.6 7.6 0 1 0 -15.2 0M2096.6 1188.0a7.6 7.6 0 1 0 15.2 0a7.6 7.6 0 1 0 -15.2 0M2100.1 1184.1a7.6 7.6 0 1 0 15.2 0a7.6 7.6 0 1 0 -15.2 0M2103.6 1180.7a7.6 7.6 0 1 0 15.2 0a7.6 7.6 0 1 0 -15.2 0M2107.1 1177.4a7.6 7.6 0 1 0 15.2 0a7.6 7.6 0 1 0 -15.2 0M2110.6 1174.2a7.6 7.6 0 1 0 15.2 0a7.6 7.6 0 1 0 -15.2 0M2114.1 1170.9a7.6 7.6 0 1 0 15.2 0a7.6 7.6 0 1 0 -15.2 0M2117.6 1167.2a7.6 7.6 0 1 0 15.2 0a7.6 7.6 0 1 0 -15.2 0M2121.1 1163.3a7.6 7.6 0 1 0 15.2 0a7.6 7.6 0 1 0 -15.2 0M2124.6 1159.2a7.6 7.6 0 1 0 15.2 0a7.6 7.6 0 1 0 -15.2 0M2128.1 1155.1a7.6 7.6 0 1 0 15.2 0a7.6 7.6 0 1 0 -15.2 0M2131.6 1150.9a7.6 7.6 0 1 0 15.2 0a7.6 7.6 0 1 0 -15.2 0M2135.1 1146.5a7.6 7.6 0 1 0 15.2 0a7.6 7.6 0 1 0 -15.2 0M2138.6 1141.6a7.6 7.6 0 1 0 15.2 0a7.6 7.6 0 1 0 -15.2 0M2142.1 1136.8a7.6 7.6 0 1 0 15.2 0a7.6 7.6 0 1 0 -15.2 0M2145.6 1132.8a7.6 7.6 0 1 0 15.2 0a7.6 7.6 0 1 0 -15.2 0M2149.1 1130.3a7.6 7.6 0 1 0 15.2 0a7.6 7.6 0 1 0 -15.2 0M2152.6 1128.5a7.6 7.6 0 1 0 15.2 0a7.6 7.6 0 1 0 -15.2 0M2156.1 1127.0a7.6 7.6 0 1 0 15.2 0a7.6 7.6 0 1 0 -15.2 0M2159.6 1125.8a7.6 7.6 0 1 0 15.2 0a7.6 7.6 0 1 0 -15.2 0M2163.1 1125.0a7.6 7.6 0 1 0 15.2 0a7.6 7.6 0 1 0 -15.2 0M2166.6 1124.4a7.6 7.6 0 1 0 15.2 0a7.6 7.6 0 1 0 -15.2 0M2170.1 1123.9a7.6 7.6 0 1 0 15.2 0a7.6 7.6 0 1 0 -15.2 0M2173.5 1123.5a7.6 7.6 0 1 0 15.2 0a7.6 7.6 0 1 0 -15.2 0M2177.0 1123.2a7.6 7.6 0 1 0 15.2 0a7.6 7.6 0 1 0 -15.2 0M2180.5 1123.0a7.6 7.6 0 1 0 15.2 0a7.6 7.6 0 1 0 -15.2 0M2184.0 1122.7a7.6 7.6 0 1 0 15.2 0a7.6 7.6 0 1 0 -15.2 0M2187.5 1122.5a7.6 7.6 0 1 0 15.2 0a7.6 7.6 0 1 0 -15.2 0M2191.0 1122.3a7.6 7.6 0 1 0 15.2 0a7.6 7.6 0 1 0 -15.2 0M2194.5 1122.2a7.6 7.6 0 1 0 15.2 0a7.6 7.6 0 1 0 -15.2 0M2198.0 1122.1a7.6 7.6 0 1 0 15.2 0a7.6 7.6 0 1 0 -15.2 0M2201.5 1122.1a7.6 7.6 0 1 0 15.2 0a7.6 7.6 0 1 0 -15.2 0M2204.9 1122.1a7.6 7.6 0 1 0 15.2 0a7.6 7.6 0 1 0 -15.2 0M2208.4 1122.1a7.6 7.6 0 1 0 15.2 0a7.6 7.6 0 1 0 -15.2 0M2211.9 1122.1a7.6 7.6 0 1 0 15.2 0a7.6 7.6 0 1 0 -15.2 0M2215.4 1122.1a7.6 7.6 0 1 0 15.2 0a7.6 7.6 0 1 0 -15.2 0M2218.9 1122.1a7.6 7.6 0 1 0 15.2 0a7.6 7.6 0 1 0 -15.2 0M2222.4 1122.1a7.6 7.6 0 1 0 15.2 0a7.6 7.6 0 1 0 -15.2 0M2225.9 1122.1a7.6 7.6 0 1 0 15.2 0a7.6 7.6 0 1 0 -15.2 0M2229.4 1122.1a7.6 7.6 0 1 0 15.2 0a7.6 7.6 0 1 0 -15.2 0M2232.8 1122.1a7.6 7.6 0 1 0 15.2 0a7.6 7.6 0 1 0 -15.2 0M2236.3 1122.2a7.6 7.6 0 1 0 15.2 0a7.6 7.6 0 1 0 -15.2 0M2239.8 1122.3a7.6 7.6 0 1 0 15.2 0a7.6 7.6 0 1 0 -15.2 0M2244.5 1123.0a7.6 7.6 0 1 0 15.2 0a7.6 7.6 0 1 0 -15.2 0M2249.1 1125.5a7.6 7.6 0 1 0 15.2 0a7.6 7.6 0 1 0 -15.2 0" fill="none" stroke="#000" stroke-width="2.1"/><path d="M1733.5 1504.6h17.6M1742.3 1495.8v17.6M1737.5 1499.8l9.6 9.6M1737.5 1509.4l9.6 -9.6M1740.7 1503.0h3.2v3.2h-3.2zM1746.0 1500.3h17.6M1754.8 1491.5v17.6M1750.0 1495.5l9.6 9.6M1750.0 1505.1l9.6 -9.6M1753.2 1498.7h3.2v3.2h-3.2zM1757.7 1496.4h17.6M1766.5 1487.6v17.6M1761.7 1491.6l9.6 9.6M1761.7 1501.2l9.6 -9.6M1764.9 1494.8h3.2v3.2h-3.2z" fill="none" stroke="#000" stroke-width="1.7"/><path d="M1734.7 1482.6a7.6 7.6 0 1 0 15.2 0a7.6 7.6 0 1 0 -15.2 0M1747.2 1475.4a7.6 7.6 0 1 0 15.2 0a7.6 7.6 0 1 0 -15.2 0M1758.9 1467.5a7.6 7.6 0 1 0 15.2 0a7.6 7.6 0 1 0 -15.2 0" fill="none" stroke="#000" stroke-width="1.7"/><path d="M1554.4 1522.2h17.6M1563.2 1513.4v17.6M1558.4 1517.4l9.6 9.6M1558.4 1527.0l9.6 -9.6M1561.6 1520.6h3.2v3.2h-3.2zM1609.5 1521.0h17.6M1618.3 1512.2v17.6M1613.5 1516.2l9.6 9.6M1613.5 1525.8l9.6 -9.6M1616.7 1519.4h3.2v3.2h-3.2zM1642.9 1520.5h17.6M1651.7 1511.7v17.6M1646.9 1515.7l9.6 9.6M1646.9 1525.3l9.6 -9.6M1650.1 1518.9h3.2v3.2h-3.2zM1667.7 1518.2h17.6M1676.5 1509.4v17.6M1671.7 1513.4l9.6 9.6M1671.7 1523.0l9.6 -9.6M1674.9 1516.6h3.2v3.2h-3.2zM1687.7 1515.2h17.6M1696.5 1506.4v17.6M1691.7 1510.4l9.6 9.6M1691.7 1520.0l9.6 -9.6M1694.9 1513.6h3.2v3.2h-3.2zM1704.8 1511.1h17.6M1713.6 1502.3v17.6M1708.8 1506.3l9.6 9.6M1708.8 1515.9l9.6 -9.6M1712.0 1509.5h3.2v3.2h-3.2zM1719.9 1507.2h17.6M1728.7 1498.4v17.6M1723.9 1502.4l9.6 9.6M1723.9 1512.0l9.6 -9.6M1727.1 1505.6h3.2v3.2h-3.2z" fill="none" stroke="#000" stroke-width="1.5"/><path d="M1555.6 1522.2a7.6 7.6 0 1 0 15.2 0a7.6 7.6 0 1 0 -15.2 0M1610.7 1520.2a7.6 7.6 0 1 0 15.2 0a7.6 7.6 0 1 0 -15.2 0M1644.1 1515.2a7.6 7.6 0 1 0 15.2 0a7.6 7.6 0 1 0 -15.2 0M1668.9 1508.5a7.6 7.6 0 1 0 15.2 0a7.6 7.6 0 1 0 -15.2 0M1688.9 1502.4a7.6 7.6 0 1 0 15.2 0a7.6 7.6 0 1 0 -15.2 0M1706.0 1497.0a7.6 7.6 0 1 0 15.2 0a7.6 7.6 0 1 0 -15.2 0M1721.1 1490.5a7.6 7.6 0 1 0 15.2 0a7.6 7.6 0 1 0 -15.2 0" fill="none" stroke="#000" stroke-width="1.5"/><rect x="1485.8" y="941.3" width="834.4" height="583.1" fill="none" stroke="#000" stroke-width="1.8"/><path d="M1536.0 1524.4v-4.6M1536.0 941.3v4.6M1565.4 1524.4v-4.6M1565.4 941.3v4.6M1586.3 1524.4v-4.6M1586.3 941.3v4.6M1602.4 1524.4v-4.6M1602.4 941.3v4.6M1615.7 1524.4v-4.6M1615.7 941.3v4.6M1626.8 1524.4v-4.6M1626.8 941.3v4.6M1636.5 1524.4v-4.6M1636.5 941.3v4.6M1645.0 1524.4v-4.6M1645.0 941.3v4.6M1652.7 1524.4v-9.0M1652.7 941.3v9.0M1702.9 1524.4v-4.6M1702.9 941.3v4.6M1732.3 1524.4v-4.6M1732.3 941.3v4.6M1753.2 1524.4v-4.6M1753.2 941.3v4.6M1769.3 1524.4v-4.6M1769.3 941.3v4.6M1782.5 1524.4v-4.6M1782.5 941.3v4.6M1793.7 1524.4v-4.6M1793.7 941.3v4.6M1803.4 1524.4v-4.6M1803.4 941.3v4.6M1811.9 1524.4v-4.6M1811.9 941.3v4.6M1819.6 1524.4v-9.0M1819.6 941.3v9.0M1869.8 1524.4v-4.6M1869.8 941.3v4.6M1899.2 1524.4v-4.6M1899.2 941.3v4.6M1920.0 1524.4v-4.6M1920.0 941.3v4.6M1936.2 1524.4v-4.6M1936.2 941.3v4.6M1949.4 1524.4v-4.6M1949.4 941.3v4.6M1960.6 1524.4v-4.6M1960.6 941.3v4.6M1970.3 1524.4v-4.6M1970.3 941.3v4.6M1978.8 1524.4v-4.6M1978.8 941.3v4.6M1986.4 1524.4v-9.0M1986.4 941.3v9.0M2036.7 1524.4v-4.6M2036.7 941.3v4.6M2066.1 1524.4v-4.6M2066.1 941.3v4.6M2086.9 1524.4v-4.6M2086.9 941.3v4.6M2103.1 1524.4v-4.6M2103.1 941.3v4.6M2116.3 1524.4v-4.6M2116.3 941.3v4.6M2127.5 1524.4v-4.6M2127.5 941.3v4.6M2137.1 1524.4v-4.6M2137.1 941.3v4.6M2145.7 1524.4v-4.6M2145.7 941.3v4.6M2153.3 1524.4v-9.0M2153.3 941.3v9.0M2203.6 1524.4v-4.6M2203.6 941.3v4.6M2232.9 1524.4v-4.6M2232.9 941.3v4.6M2253.8 1524.4v-4.6M2253.8 941.3v4.6M2270.0 1524.4v-4.6M2270.0 941.3v4.6M2283.2 1524.4v-4.6M2283.2 941.3v4.6M2294.3 1524.4v-4.6M2294.3 941.3v4.6M2304.0 1524.4v-4.6M2304.0 941.3v4.6M2312.6 1524.4v-4.6M2312.6 941.3v4.6M1485.8 1330.0h8.5M2320.2 1330.0h-8.5M1485.8 1135.7h8.5M2320.2 1135.7h-8.5" stroke="#000" stroke-width="1.8" fill="none"/></g>
<rect x="288.5" y="66.6" width="279.4" height="183.4" fill="#fff" stroke="#222" stroke-width="1.6"/>
<path d="M296.3 99.3H377.5" stroke="#1a1a1a" stroke-width="2.2"/>
<path d="M327.7 159.4h17.6M336.5 150.6v17.6M331.7 154.6l9.6 9.6M331.7 164.2l9.6 -9.6M334.9 157.8h3.2v3.2h-3.2z" stroke="#000" stroke-width="1.5" fill="none"/>
<circle cx="335.8" cy="217.7" r="7.6" stroke="#000" stroke-width="1.5" fill="none"/>
<g transform="translate(6.11 63.93) scale(1.0300 1.0182)"><text x="0" y="0" font-size="75" >(</text></g>
<g transform="translate(31.04 66.30) scale(1.1281 1.0257)"><text x="0" y="0" font-size="75" font-style="italic">a</text></g>
<g transform="translate(73.14 63.93) scale(1.0300 1.0182)"><text x="0" y="0" font-size="75" >)</text></g>
<g transform="translate(1246.39 63.73) scale(1.0350 1.0182)"><text x="0" y="0" font-size="75" >(</text></g>
<g transform="translate(1271.15 66.30) scale(1.1156 1.0558)"><text x="0" y="0" font-size="75" font-style="italic">b</text></g>
<g transform="translate(1313.42 63.73) scale(1.0400 1.0182)"><text x="0" y="0" font-size="75" >)</text></g>
<g transform="translate(5.93 964.57) scale(1.0250 1.0152)"><text x="0" y="0" font-size="75" >(</text></g>
<g transform="translate(31.98 967.20) scale(1.0600 1.0543)"><text x="0" y="0" font-size="75" font-style="italic">c</text></g>
<g transform="translate(68.78 964.57) scale(1.0100 1.0152)"><text x="0" y="0" font-size="75" >)</text></g>
<g transform="translate(1246.78 964.48) scale(1.0050 1.0212)"><text x="0" y="0" font-size="75" >(</text></g>
<g transform="translate(1271.66 967.20) scale(1.1222 1.0673)"><text x="0" y="0" font-size="75" font-style="italic">d</text></g>
<g transform="translate(1316.99 964.48) scale(1.0050 1.0212)"><text x="0" y="0" font-size="75" >)</text></g>
<g transform="translate(151.14 59.70) scale(0.9269 0.9978)"><text x="0" y="0" font-size="69.6" >1.5</text></g>
<g transform="translate(151.23 257.00) scale(0.9615 1.0000)"><text x="0" y="0" font-size="69.6" >1.0</text></g>
<g transform="translate(147.80 453.00) scale(0.9667 1.0000)"><text x="0" y="0" font-size="69.6" >0.5</text></g>
<g transform="translate(198.36 649.90) scale(1.0483 0.9935)"><text x="0" y="0" font-size="69.6" >0</text></g>
<g transform="translate(1375.26 59.50) scale(0.9231 0.9978)"><text x="0" y="0" font-size="69.6" >1.5</text></g>
<g transform="translate(1373.86 256.50) scale(0.9731 0.9913)"><text x="0" y="0" font-size="69.6" >1.0</text></g>
<g transform="translate(1371.69 453.30) scale(0.9716 1.0065)"><text x="0" y="0" font-size="69.6" >0.5</text></g>
<g transform="translate(1421.50 649.50) scale(1.0655 0.9783)"><text x="0" y="0" font-size="69.6" >0</text></g>
<g transform="translate(151.35 964.80) scale(0.9244 0.9978)"><text x="0" y="0" font-size="69.6" >1.5</text></g>
<g transform="translate(151.60 1162.10) scale(0.9667 1.0022)"><text x="0" y="0" font-size="69.6" >1.0</text></g>
<g transform="translate(148.94 1358.30) scale(0.9543 0.9891)"><text x="0" y="0" font-size="69.6" >0.5</text></g>
<g transform="translate(196.83 1555.10) scale(1.1241 1.0087)"><text x="0" y="0" font-size="69.6" >0</text></g>
<g transform="translate(1375.15 964.60) scale(0.9244 1.0043)"><text x="0" y="0" font-size="69.6" >1.5</text></g>
<g transform="translate(1374.51 1162.60) scale(0.9654 1.0065)"><text x="0" y="0" font-size="69.6" >1.0</text></g>
<g transform="translate(1371.57 1357.70) scale(0.9778 1.0065)"><text x="0" y="0" font-size="69.6" >0.5</text></g>
<g transform="translate(1421.50 1556.60) scale(1.0655 1.0065)"><text x="0" y="0" font-size="69.6" >0</text></g>
<g transform="translate(373.24 712.00) scale(1.0274 1.0182)"><text x="0" y="0" font-size="69.6" >10<tspan font-size="46.5" dy="-24.5" dx="3">−2</tspan></text></g>
<g transform="translate(539.05 712.00) scale(0.9912 1.0182)"><text x="0" y="0" font-size="69.6" >10<tspan font-size="46.5" dy="-24.5" dx="3">−1</tspan></text></g>
<g transform="translate(722.48 712.00) scale(0.9205 1.0182)"><text x="0" y="0" font-size="69.6" >10<tspan font-size="46.5" dy="-24.5" dx="3">0</tspan></text></g>
<g transform="translate(888.34 712.00) scale(0.8931 1.0182)"><text x="0" y="0" font-size="69.6" >10<tspan font-size="46.5" dy="-24.5" dx="3">1</tspan></text></g>
<g transform="translate(1054.27 712.00) scale(0.9218 1.0182)"><text x="0" y="0" font-size="69.6" >10<tspan font-size="46.5" dy="-24.5" dx="3">2</tspan></text></g>
<g transform="translate(1591.94 712.50) scale(1.0274 1.0255)"><text x="0" y="0" font-size="69.6" >10<tspan font-size="46.5" dy="-24.5" dx="3">−2</tspan></text></g>
<g transform="translate(1758.97 712.50) scale(1.0044 1.0255)"><text x="0" y="0" font-size="69.6" >10<tspan font-size="46.5" dy="-24.5" dx="3">−1</tspan></text></g>
<g transform="translate(1944.36 712.50) scale(0.9398 1.0255)"><text x="0" y="0" font-size="69.6" >10<tspan font-size="46.5" dy="-24.5" dx="3">0</tspan></text></g>
<g transform="translate(2111.37 712.50) scale(0.9046 1.0255)"><text x="0" y="0" font-size="69.6" >10<tspan font-size="46.5" dy="-24.5" dx="3">1</tspan></text></g>
<g transform="translate(2277.96 712.50) scale(0.9575 1.0255)"><text x="0" y="0" font-size="69.6" >10<tspan font-size="46.5" dy="-24.5" dx="3">2</tspan></text></g>
<g transform="translate(376.26 1620.20) scale(1.0239 1.0218)"><text x="0" y="0" font-size="69.6" >10<tspan font-size="46.5" dy="-24.5" dx="3">−2</tspan></text></g>
<g transform="translate(546.20 1620.20) scale(0.9832 1.0218)"><text x="0" y="0" font-size="69.6" >10<tspan font-size="46.5" dy="-24.5" dx="3">−1</tspan></text></g>
<g transform="translate(733.76 1620.20) scale(0.9068 1.0218)"><text x="0" y="0" font-size="69.6" >10<tspan font-size="46.5" dy="-24.5" dx="3">0</tspan></text></g>
<g transform="translate(903.56 1620.20) scale(0.8736 1.0218)"><text x="0" y="0" font-size="69.6" >10<tspan font-size="46.5" dy="-24.5" dx="3">1</tspan></text></g>
<g transform="translate(1071.92 1620.20) scale(0.9126 1.0218)"><text x="0" y="0" font-size="69.6" >10<tspan font-size="46.5" dy="-24.5" dx="3">2</tspan></text></g>
<g transform="translate(1617.04 1620.00) scale(1.0274 1.0145)"><text x="0" y="0" font-size="69.6" >10<tspan font-size="46.5" dy="-24.5" dx="3">−2</tspan></text></g>
<g transform="translate(1779.02 1620.00) scale(0.9973 1.0145)"><text x="0" y="0" font-size="69.6" >10<tspan font-size="46.5" dy="-24.5" dx="3">−1</tspan></text></g>
<g transform="translate(1959.10 1620.00) scale(0.9170 1.0145)"><text x="0" y="0" font-size="69.6" >10<tspan font-size="46.5" dy="-24.5" dx="3">0</tspan></text></g>
<g transform="translate(2120.66 1620.00) scale(0.8897 1.0145)"><text x="0" y="0" font-size="69.6" >10<tspan font-size="46.5" dy="-24.5" dx="3">1</tspan></text></g>
<g transform="translate(2281.28 1620.00) scale(0.9540 1.0145)"><text x="0" y="0" font-size="69.6" >10<tspan font-size="46.5" dy="-24.5" dx="3">2</tspan></text></g>
<g transform="translate(520.52 809.80) scale(1.0194 0.9625)"><text x="0" y="0" font-size="69.6" font-style="italic">x</text></g>
<g transform="translate(554.10 821.81) scale(1.1136 1.0926)"><text x="0" y="0" font-size="80" >/</text></g>
<g transform="translate(584.86 810.10) scale(0.9200 1.0043)"><text x="0" y="0" font-size="69.6" font-style="italic" font-weight="bold">C</text></g>
<g transform="translate(639.75 817.62) scale(1.3515 1.0412)"><text x="0" y="0" font-size="69.6" >=</text></g>
<g transform="translate(703.33 810.40) scale(0.9572 1.0130)"><text x="0" y="0" font-size="69.6" >0.327</text></g>
<g transform="translate(1767.72 809.80) scale(1.0194 0.9625)"><text x="0" y="0" font-size="69.6" font-style="italic">x</text></g>
<g transform="translate(1801.30 821.81) scale(1.1136 1.0926)"><text x="0" y="0" font-size="80" >/</text></g>
<g transform="translate(1832.06 810.10) scale(0.9200 1.0043)"><text x="0" y="0" font-size="69.6" font-style="italic" font-weight="bold">C</text></g>
<g transform="translate(1886.95 817.62) scale(1.3515 1.0412)"><text x="0" y="0" font-size="69.6" >=</text></g>
<g transform="translate(1950.52 810.40) scale(0.9605 1.0130)"><text x="0" y="0" font-size="69.6" >0.5</text></g>
<g transform="translate(520.62 1840.80) scale(1.0194 0.9625)"><text x="0" y="0" font-size="69.6" font-style="italic">x</text></g>
<g transform="translate(554.20 1852.81) scale(1.1136 1.0926)"><text x="0" y="0" font-size="80" >/</text></g>
<g transform="translate(584.96 1841.10) scale(0.9200 1.0043)"><text x="0" y="0" font-size="69.6" font-style="italic" font-weight="bold">C</text></g>
<g transform="translate(639.85 1848.62) scale(1.3515 1.0412)"><text x="0" y="0" font-size="69.6" >=</text></g>
<g transform="translate(703.43 1841.40) scale(0.9570 1.0130)"><text x="0" y="0" font-size="69.6" >0.655</text></g>
<g transform="translate(1792.62 1840.60) scale(1.0194 0.9625)"><text x="0" y="0" font-size="69.6" font-style="italic">x</text></g>
<g transform="translate(1826.20 1852.61) scale(1.1136 1.0926)"><text x="0" y="0" font-size="80" >/</text></g>
<g transform="translate(1856.96 1840.90) scale(0.9200 1.0043)"><text x="0" y="0" font-size="69.6" font-style="italic" font-weight="bold">C</text></g>
<g transform="translate(1911.85 1848.42) scale(1.3515 1.0412)"><text x="0" y="0" font-size="69.6" >=</text></g>
<g transform="translate(1979.91 1840.60) scale(0.7480 1.0000)"><text x="0" y="0" font-size="69.6" >1</text></g>
<g transform="translate(86.61 443.78) scale(0.9926 0.9109)"><text x="0" y="0" font-size="81" font-style="italic" font-weight="bold" transform="rotate(-90)">U</text></g>
<g transform="translate(101.36 387.10) scale(1.1410 1.1760)"><text x="0" y="0" font-size="90"  transform="rotate(-90)">/</text></g>
<g transform="translate(86.61 352.51) scale(0.9926 0.9582)"><text x="0" y="0" font-size="81" font-style="italic" font-weight="bold" transform="rotate(-90)">U</text></g>
<g transform="translate(98.36 300.76) scale(0.9115 0.9808)"><text x="0" y="0" font-size="56" font-style="italic" transform="rotate(-90)">r<tspan dx="4">e</tspan><tspan dx="5">f</tspan></text></g>
<g transform="translate(87.21 1350.78) scale(0.9926 0.9109)"><text x="0" y="0" font-size="81" font-style="italic" font-weight="bold" transform="rotate(-90)">U</text></g>
<g transform="translate(101.96 1294.10) scale(1.1410 1.1760)"><text x="0" y="0" font-size="90"  transform="rotate(-90)">/</text></g>
<g transform="translate(87.21 1259.51) scale(0.9926 0.9582)"><text x="0" y="0" font-size="81" font-style="italic" font-weight="bold" transform="rotate(-90)">U</text></g>
<g transform="translate(98.96 1207.76) scale(0.9115 0.9808)"><text x="0" y="0" font-size="56" font-style="italic" transform="rotate(-90)">r<tspan dx="4">e</tspan><tspan dx="5">f</tspan></text></g>
<g transform="translate(603.34 1724.78) scale(0.8732 0.9717)"><text x="0" y="0" font-size="78" font-style="italic">y</text></g>
<g transform="translate(638.70 1740.35) scale(1.1760 1.1475)"><text x="0" y="0" font-size="90" >/</text></g>
<g transform="translate(669.75 1724.74) scale(1.0625 0.9607)"><text x="0" y="0" font-size="78" font-style="italic">θ</text></g>
<g transform="translate(707.45 1737.16) scale(0.9743 0.9196)"><text x="0" y="0" font-size="54" font-style="italic">r<tspan dx="5">e</tspan><tspan dx="7">f</tspan></text></g>
<g transform="translate(1818.14 1725.28) scale(0.8732 0.9717)"><text x="0" y="0" font-size="78" font-style="italic">y</text></g>
<g transform="translate(1853.50 1740.85) scale(1.1760 1.1475)"><text x="0" y="0" font-size="90" >/</text></g>
<g transform="translate(1884.55 1725.24) scale(1.0625 0.9607)"><text x="0" y="0" font-size="78" font-style="italic">θ</text></g>
<g transform="translate(1922.25 1737.66) scale(0.9743 0.9196)"><text x="0" y="0" font-size="54" font-style="italic">r<tspan dx="5">e</tspan><tspan dx="7">f</tspan></text></g>
<g transform="translate(400.90 117.20) scale(1.0047 1.0030)"><text x="0" y="0" font-size="50" >LES</text></g>
<g transform="translate(400.14 183.30) scale(1.0815 1.0250)"><text x="0" y="0" font-size="64" font-style="italic">k</text></g>
<g transform="translate(449.25 189.00) scale(1.3500 1.0000)"><text x="0" y="0" font-size="64" >−</text></g>
<g transform="translate(515.54 183.01) scale(1.0325 0.9867)"><text x="0" y="0" font-size="64" font-style="italic">ω</text></g>
<g transform="translate(400.32 236.03) scale(0.9895 0.9706)"><text x="0" y="0" font-size="50" >Inverse</text></g>
</svg></body></html>
